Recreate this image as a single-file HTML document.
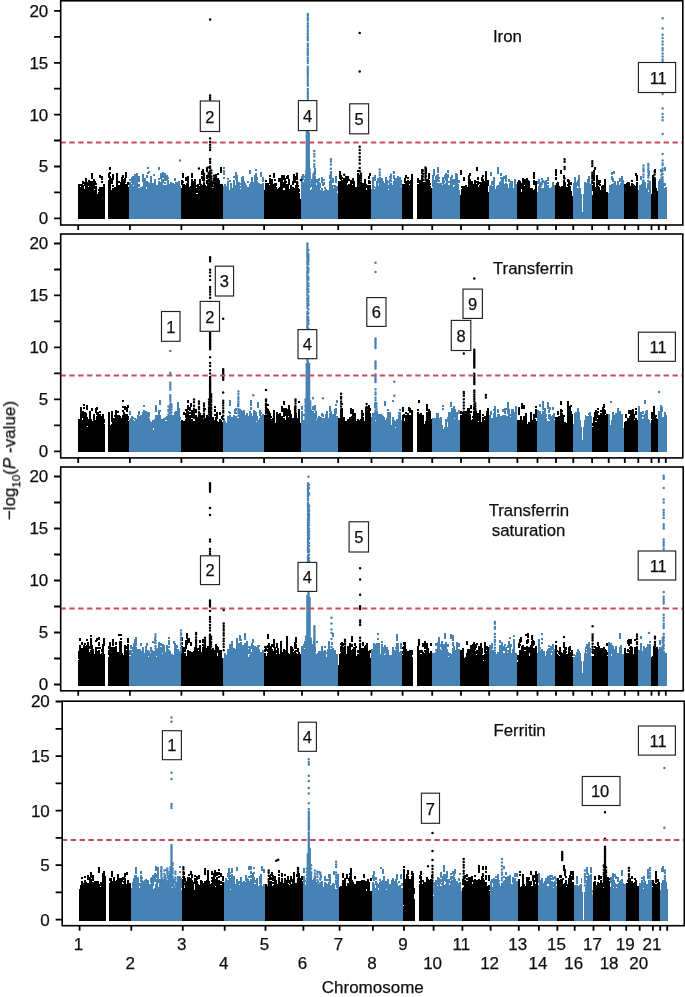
<!DOCTYPE html>
<html><head><meta charset="utf-8"><style>
html,body{margin:0;padding:0;background:#fff;width:685px;height:997px;overflow:hidden}
svg text{font-family:"Liberation Sans", sans-serif;fill:#111;stroke:#111;stroke-width:0.25px}
</style></head><body>
<svg width="685" height="997" viewBox="0 0 685 997" style="position:absolute;left:0;top:0"><defs><filter id="bl" x="0" y="0" width="1" height="1"><feGaussianBlur stdDeviation="0.5"/></filter></defs><g filter="url(#bl)"><path d="M78.5 184v35M79.5 184v35M80.5 184v2M80.5 187v32M81.5 184v35M82.5 181v38M83.5 181v3M83.5 185v34M84.5 182v4M84.5 189v30M85.5 178v41M86.5 178v41M87.5 182v37M88.5 180v6M88.5 187v32M89.5 180v39M90.5 181v38M91.5 173v6M91.5 181v38M92.5 173v6M92.5 181v38M93.5 179v40M94.5 179v10M94.5 190v29M95.5 181v4M95.5 186v33M96.5 183v2M96.5 186v33M97.5 194v25M98.5 189v2M98.5 192v27M99.5 175v3M99.5 187v32M100.5 175v3M100.5 187v32M101.5 176v4M101.5 181v2M101.5 187v32M102.5 176v4M102.5 181v2M102.5 187v32M103.5 184v35M104.5 184v35M108.5 173v5M108.5 180v39M109.5 167v3M109.5 172v47M110.5 167v3M110.5 172v2M110.5 176v43M111.5 178v6M111.5 190v29M112.5 174v10M112.5 185v2M112.5 188v31M113.5 174v6M113.5 185v2M113.5 188v31M114.5 187v32M115.5 187v32M116.5 173v46M117.5 173v46M118.5 181v2M118.5 185v34M119.5 181v2M119.5 185v34M120.5 182v37M121.5 177v42M122.5 175v44M123.5 175v3M123.5 179v40M124.5 178v41M125.5 172v11M125.5 184v35M126.5 172v6M126.5 184v35M127.5 182v37M128.5 182v3M128.5 187v32M181.5 180v5M181.5 188v31M182.5 173v5M182.5 180v39M183.5 173v5M183.5 181v2M183.5 184v35M184.5 184v35M185.5 177v4M185.5 185v34M186.5 177v4M186.5 183v36M187.5 176v43M188.5 176v43M189.5 187v32M190.5 186v33M191.5 173v5M191.5 179v40M192.5 173v5M192.5 179v40M193.5 181v38M194.5 179v40M195.5 179v40M196.5 185v2M196.5 188v5M196.5 194v25M197.5 184v9M197.5 194v25M198.5 184v35M199.5 179v6M199.5 186v33M200.5 179v40M201.5 171v4M201.5 176v3M201.5 184v35M202.5 169v6M202.5 176v5M202.5 185v34M203.5 169v6M203.5 178v3M203.5 185v34M204.5 185v34M205.5 185v34M206.5 167v5M206.5 175v4M206.5 180v4M206.5 186v33M207.5 167v5M207.5 175v4M207.5 180v39M208.5 183v36M209.5 184v35M210.5 180v39M211.5 180v39M212.5 181v6M212.5 188v31M213.5 188v31M214.5 177v4M214.5 183v36M215.5 174v45M216.5 174v45M217.5 173v2M217.5 178v41M218.5 173v2M218.5 178v41M219.5 180v39M220.5 167v6M220.5 184v35M221.5 167v6M221.5 184v35M222.5 184v35M264.5 190v29M265.5 180v2M265.5 183v36M266.5 180v2M266.5 183v36M267.5 183v36M268.5 183v36M269.5 175v2M269.5 178v6M269.5 185v34M270.5 175v2M270.5 178v41M271.5 179v40M272.5 179v40M273.5 173v5M273.5 184v35M274.5 173v5M274.5 179v2M274.5 183v36M275.5 179v2M275.5 183v36M276.5 183v3M276.5 187v32M277.5 189v30M278.5 178v4M278.5 188v31M279.5 178v4M279.5 187v32M280.5 178v41M281.5 175v44M282.5 175v44M283.5 175v5M283.5 182v6M283.5 190v29M284.5 175v13M284.5 190v29M285.5 178v41M286.5 176v3M286.5 181v2M286.5 184v35M287.5 175v4M287.5 184v35M288.5 175v44M289.5 179v6M289.5 189v30M290.5 185v34M291.5 185v34M292.5 181v4M292.5 187v32M293.5 174v11M293.5 187v32M294.5 174v9M294.5 188v31M295.5 176v7M295.5 185v34M296.5 175v5M296.5 181v38M297.5 175v5M297.5 181v38M298.5 185v2M298.5 188v31M299.5 189v3M299.5 193v26M300.5 199v20M338.5 181v38M339.5 171v8M339.5 181v38M340.5 171v9M340.5 181v38M341.5 175v44M342.5 177v2M342.5 180v39M343.5 178v41M344.5 178v41M345.5 176v43M346.5 176v43M347.5 176v7M347.5 185v34M348.5 176v5M348.5 184v35M349.5 179v2M349.5 184v35M350.5 180v39M351.5 180v39M352.5 178v6M352.5 185v34M353.5 178v41M354.5 181v38M355.5 187v32M356.5 187v32M357.5 170v2M357.5 173v46M358.5 170v2M358.5 173v46M359.5 177v42M360.5 183v36M361.5 183v36M362.5 183v36M363.5 183v36M364.5 179v40M365.5 179v40M366.5 184v4M366.5 190v29M367.5 185v34M368.5 176v3M368.5 180v4M368.5 185v34M369.5 173v6M369.5 180v4M369.5 185v34M370.5 173v3M370.5 181v3M370.5 185v34M402.5 184v35M403.5 184v35M404.5 178v5M404.5 184v35M405.5 175v44M406.5 175v3M406.5 181v38M407.5 177v2M407.5 180v39M408.5 177v2M408.5 180v39M409.5 181v3M409.5 185v34M410.5 180v39M411.5 174v45M412.5 174v45M417.5 178v5M417.5 184v35M418.5 178v5M418.5 184v35M419.5 180v39M420.5 180v39M421.5 169v5M421.5 175v44M422.5 169v5M422.5 175v8M422.5 184v35M423.5 182v37M424.5 182v37M425.5 168v6M425.5 175v2M425.5 179v2M425.5 182v37M426.5 168v6M426.5 175v2M426.5 179v40M427.5 179v40M428.5 173v46M429.5 173v6M429.5 180v39M430.5 183v2M430.5 186v33M431.5 188v31M460.5 170v5M460.5 195v24M461.5 170v5M461.5 186v2M461.5 189v30M462.5 186v33M463.5 177v4M463.5 186v33M464.5 177v4M464.5 186v33M465.5 185v34M466.5 185v34M467.5 187v32M468.5 175v44M469.5 173v46M470.5 173v3M470.5 179v40M471.5 181v38M472.5 181v38M473.5 184v35M474.5 180v39M475.5 180v39M476.5 167v4M476.5 181v2M476.5 184v35M477.5 167v4M477.5 177v3M477.5 181v38M478.5 177v3M478.5 181v4M478.5 187v32M479.5 182v2M479.5 185v34M480.5 182v37M481.5 177v4M481.5 182v37M482.5 175v44M483.5 175v2M483.5 179v40M484.5 181v38M485.5 171v48M486.5 171v48M487.5 180v39M488.5 180v6M488.5 192v27M517.5 182v37M518.5 180v39M519.5 180v39M520.5 181v38M521.5 183v6M521.5 192v27M522.5 178v41M523.5 178v41M524.5 179v6M524.5 186v33M525.5 179v40M526.5 178v41M527.5 178v41M528.5 180v39M529.5 181v38M530.5 188v31M531.5 188v31M532.5 188v31M533.5 172v7M533.5 180v5M533.5 190v29M534.5 172v7M534.5 180v5M534.5 189v30M535.5 181v38M536.5 181v38M555.5 169v7M555.5 177v3M555.5 185v34M556.5 169v7M556.5 177v3M556.5 183v36M557.5 182v37M558.5 182v37M559.5 186v33M560.5 170v4M560.5 187v32M561.5 170v4M561.5 186v33M562.5 186v33M563.5 175v4M563.5 180v39M564.5 175v4M564.5 180v39M565.5 182v37M566.5 187v32M567.5 179v3M567.5 184v2M567.5 187v32M568.5 179v40M569.5 180v39M570.5 182v3M570.5 186v33M571.5 182v3M571.5 191v28M572.5 196v23M592.5 185v6M592.5 195v24M593.5 170v11M593.5 182v37M594.5 167v14M594.5 182v37M595.5 167v3M595.5 187v32M596.5 175v44M597.5 175v44M598.5 180v5M598.5 186v33M599.5 180v6M599.5 187v32M600.5 180v3M600.5 184v2M600.5 190v29M601.5 186v33M602.5 185v34M603.5 185v34M604.5 179v40M605.5 179v40M606.5 192v27M607.5 192v27M624.5 184v35M625.5 184v35M626.5 183v36M627.5 182v37M628.5 182v37M629.5 182v37M630.5 186v33M631.5 180v2M631.5 183v36M632.5 180v2M632.5 183v36M633.5 184v35M634.5 185v34M635.5 173v3M635.5 186v33M636.5 173v8M636.5 182v37M637.5 175v6M637.5 182v37M651.5 194v25M652.5 175v44M653.5 175v44M654.5 169v4M654.5 177v42M655.5 169v4M655.5 179v40M656.5 188v31M657.5 191v28" stroke="#000" stroke-width="1" shape-rendering="crispEdges"/><path d="M129.5 179v2M129.5 182v37M130.5 179v2M130.5 182v37M131.5 177v6M131.5 184v35M132.5 176v43M133.5 176v9M133.5 186v33M134.5 174v45M135.5 174v45M136.5 173v46M137.5 173v46M138.5 176v6M138.5 184v3M138.5 188v31M139.5 176v6M139.5 184v3M139.5 188v31M140.5 187v32M141.5 187v32M142.5 174v8M142.5 186v33M143.5 174v45M144.5 178v41M145.5 178v41M146.5 175v3M146.5 181v6M146.5 189v30M147.5 167v2M147.5 172v2M147.5 175v3M147.5 181v38M148.5 167v2M148.5 171v3M148.5 182v37M149.5 171v2M149.5 183v36M150.5 176v43M151.5 176v43M152.5 183v36M153.5 174v2M153.5 183v36M154.5 174v2M154.5 179v40M155.5 179v40M156.5 185v34M157.5 185v34M158.5 167v3M158.5 178v2M158.5 181v38M159.5 167v3M159.5 178v2M159.5 181v38M160.5 173v6M160.5 182v37M161.5 173v46M162.5 172v6M162.5 179v40M163.5 172v6M163.5 179v4M163.5 185v34M164.5 173v8M164.5 182v2M164.5 185v34M165.5 173v8M165.5 182v2M165.5 185v34M166.5 175v6M166.5 185v34M167.5 175v44M168.5 177v2M168.5 180v39M169.5 184v35M170.5 182v37M171.5 182v37M172.5 183v36M173.5 183v36M174.5 178v3M174.5 184v35M175.5 178v3M175.5 182v37M176.5 182v37M177.5 182v37M178.5 181v38M179.5 181v38M180.5 186v33M223.5 167v2M223.5 170v5M223.5 177v2M223.5 186v33M224.5 167v2M224.5 170v5M224.5 177v2M224.5 184v35M225.5 184v35M226.5 186v33M227.5 178v2M227.5 181v38M228.5 178v2M228.5 181v38M229.5 180v2M229.5 190v29M230.5 180v2M230.5 183v36M231.5 183v36M232.5 188v31M233.5 176v2M233.5 180v39M234.5 176v2M234.5 180v39M235.5 172v8M235.5 185v34M236.5 172v47M237.5 175v44M238.5 182v37M239.5 182v37M240.5 183v2M240.5 186v2M240.5 189v30M241.5 177v42M242.5 176v43M243.5 176v43M244.5 181v38M245.5 183v36M246.5 185v34M247.5 181v2M247.5 187v32M248.5 181v2M248.5 187v32M249.5 170v4M249.5 184v35M250.5 170v4M250.5 182v37M251.5 177v42M252.5 177v42M253.5 182v37M254.5 175v44M255.5 169v2M255.5 173v46M256.5 169v2M256.5 173v46M257.5 177v3M257.5 181v38M258.5 183v36M259.5 183v36M260.5 172v5M260.5 184v35M261.5 172v5M261.5 184v35M262.5 177v5M262.5 183v36M263.5 177v5M263.5 183v36M301.5 176v43M302.5 174v45M303.5 174v6M303.5 182v37M304.5 181v38M305.5 177v42M306.5 177v4M306.5 183v3M306.5 187v32M307.5 181v4M307.5 186v33M308.5 179v40M309.5 179v2M309.5 184v35M310.5 185v3M310.5 190v29M311.5 179v8M311.5 189v30M312.5 179v40M313.5 181v38M314.5 168v7M314.5 176v43M315.5 168v7M315.5 176v43M316.5 179v4M316.5 185v34M317.5 179v40M318.5 178v41M319.5 178v3M319.5 182v37M320.5 183v5M320.5 190v29M321.5 177v6M321.5 188v31M322.5 177v9M322.5 188v31M323.5 179v2M323.5 182v4M323.5 191v28M324.5 179v2M324.5 182v3M324.5 187v2M324.5 190v29M325.5 187v32M326.5 189v30M327.5 190v29M328.5 190v29M329.5 175v4M329.5 181v38M330.5 171v8M330.5 180v39M331.5 171v4M331.5 176v3M331.5 180v39M332.5 178v5M332.5 185v34M333.5 178v5M333.5 185v2M333.5 188v31M334.5 185v34M335.5 176v7M335.5 185v34M336.5 176v7M336.5 186v33M337.5 186v5M337.5 193v26M371.5 189v30M372.5 177v42M373.5 177v42M374.5 175v6M374.5 186v2M374.5 189v30M375.5 175v6M375.5 187v32M376.5 181v38M377.5 178v41M378.5 178v5M378.5 186v33M379.5 178v41M380.5 178v41M381.5 178v41M382.5 178v41M383.5 181v38M384.5 183v36M385.5 177v42M386.5 177v42M387.5 180v39M388.5 181v2M388.5 185v4M388.5 190v29M389.5 176v2M389.5 179v40M390.5 176v2M390.5 179v3M390.5 183v36M391.5 185v34M392.5 185v34M393.5 171v3M393.5 175v4M393.5 181v38M394.5 171v3M394.5 175v44M395.5 178v41M396.5 178v41M397.5 176v43M398.5 176v43M399.5 177v42M400.5 177v42M401.5 180v6M401.5 187v32M432.5 175v12M432.5 188v31M433.5 169v50M434.5 169v7M434.5 180v39M435.5 176v43M436.5 175v44M437.5 167v6M437.5 174v8M437.5 183v36M438.5 167v6M438.5 174v8M438.5 183v36M439.5 177v2M439.5 180v2M439.5 183v36M440.5 183v36M441.5 183v36M442.5 177v7M442.5 185v34M443.5 177v42M444.5 175v4M444.5 180v3M444.5 184v35M445.5 173v8M445.5 183v36M446.5 173v46M447.5 170v3M447.5 174v45M448.5 170v3M448.5 174v4M448.5 181v2M448.5 185v34M449.5 181v2M449.5 185v34M450.5 177v42M451.5 175v44M452.5 175v3M452.5 179v40M453.5 179v6M453.5 187v32M454.5 179v6M454.5 186v33M455.5 173v46M456.5 173v46M457.5 174v45M458.5 180v3M458.5 184v35M459.5 180v3M459.5 190v29M489.5 186v33M490.5 172v4M490.5 185v34M491.5 172v4M491.5 181v38M492.5 181v4M492.5 186v33M493.5 177v42M494.5 177v42M495.5 189v30M496.5 186v33M497.5 167v7M497.5 185v34M498.5 167v7M498.5 185v34M499.5 182v37M500.5 173v3M500.5 177v2M500.5 181v38M501.5 173v3M501.5 177v42M502.5 177v42M503.5 176v43M504.5 176v3M504.5 184v35M505.5 175v7M505.5 183v36M506.5 175v7M506.5 183v36M507.5 184v35M508.5 179v3M508.5 188v31M509.5 179v3M509.5 183v36M510.5 181v38M511.5 181v38M512.5 181v38M513.5 188v31M514.5 179v40M515.5 179v40M516.5 184v35M537.5 181v3M537.5 192v27M538.5 179v5M538.5 186v33M539.5 179v40M540.5 182v37M541.5 178v2M541.5 181v6M541.5 188v31M542.5 178v7M542.5 188v31M543.5 180v3M543.5 188v31M544.5 181v38M545.5 180v39M546.5 180v39M547.5 177v4M547.5 182v2M547.5 185v34M548.5 177v4M548.5 182v2M548.5 185v34M549.5 188v31M550.5 188v31M551.5 187v32M552.5 182v37M553.5 182v37M554.5 185v34M573.5 183v36M574.5 177v42M575.5 177v42M576.5 182v37M577.5 180v6M577.5 188v31M578.5 175v12M578.5 188v31M579.5 175v44M580.5 188v31M581.5 194v25M582.5 212v7M583.5 194v25M584.5 182v37M585.5 182v37M586.5 183v36M587.5 179v40M588.5 176v43M589.5 176v43M590.5 184v35M591.5 184v35M608.5 193v26M609.5 185v34M610.5 185v34M611.5 172v3M611.5 176v4M611.5 184v35M612.5 172v3M612.5 176v6M612.5 184v35M613.5 171v3M613.5 178v4M613.5 183v36M614.5 171v3M614.5 181v38M615.5 181v38M616.5 185v34M617.5 181v38M618.5 181v38M619.5 178v4M619.5 185v34M620.5 178v4M620.5 183v36M621.5 176v43M622.5 176v43M623.5 180v39M638.5 190v29M639.5 185v34M640.5 176v4M640.5 185v34M641.5 176v4M641.5 184v35M642.5 180v39M643.5 180v39M644.5 182v37M645.5 182v37M646.5 188v31M647.5 184v35M648.5 171v5M648.5 184v6M648.5 192v27M649.5 171v5M649.5 181v38M650.5 181v38M658.5 181v38M659.5 179v40M660.5 169v3M660.5 179v40M661.5 169v3M661.5 181v38M662.5 183v36M663.5 183v36M664.5 167v4M664.5 183v3M664.5 188v31M665.5 167v4M665.5 183v3M665.5 187v32M666.5 187v32" stroke="#4682b4" stroke-width="1" shape-rendering="crispEdges"/><path d="M210.1 19.5h0M210.1 95.4h0M210.1 97.5h0M210.1 99.6h0M210.1 138.5h0M210.1 141.9h0M210.1 144.7h0M210.1 147.4h0M210.1 149.9h0M210.1 159.0h0M210.1 161.5h0M210.1 163.0h0M210.1 166.4h0M210.1 168.1h0M210.1 170.8h0M210.1 173.4h0M210.1 175.4h0M210.1 178.5h0M210.1 181.0h0M210.1 183.6h0M210.1 185.5h0M211.3 170.6h0M211.3 173.3h0M211.3 176.4h0M211.3 178.1h0M211.3 180.2h0M211.3 183.4h0M211.3 185.2h0M211.3 187.1h0M198.9 168.5h0M208.0 167.5h0M208.6 172.7h0M208.6 174.6h0M208.6 177.0h0M208.6 179.9h0M208.6 181.4h0M208.6 184.9h0M204.0 173.7h0M204.0 175.0h0M204.0 177.2h0M204.0 179.0h0M204.0 180.5h0M204.0 183.2h0M204.0 184.6h0M214.0 175.8h0M214.0 178.5h0M214.0 180.0h0M214.0 181.9h0M214.0 183.4h0M214.0 186.4h0M296.9 173.7h0M301.0 179.9h0M297.3 183.0h0M359.7 33.0h0M359.7 71.5h0M359.7 146.8h0M359.7 150.1h0M359.7 153.2h0M359.7 156.9h0M359.7 160.0h0M359.7 163.4h0M359.7 168.0h0M359.7 171.2h0M359.7 175.8h0M344.2 174.7h0M340.9 176.8h0M361.0 173.7h0M361.0 176.1h0M361.0 178.1h0M361.0 180.6h0M361.0 182.9h0M361.0 185.7h0M425.5 167.5h0M425.5 169.1h0M425.5 171.4h0M425.5 173.4h0M425.5 175.4h0M425.5 177.8h0M425.5 180.2h0M425.5 183.3h0M425.5 186.4h0M423.0 170.6h0M423.0 173.8h0M423.0 176.4h0M423.0 179.7h0M423.0 183.2h0M423.0 186.0h0M564.6 159.2h0M564.6 161.8h0M564.6 167.0h0M564.6 168.9h0M564.6 178.5h0M592.3 161.3h0M592.3 163.4h0M592.3 166.1h0M592.3 172.7h0M592.3 175.1h0M592.3 176.7h0M592.3 178.5h0M592.3 181.3h0M592.3 183.1h0M654.6 171.6h0M654.6 174.6h0M654.6 178.0h0M654.6 181.2h0M654.6 184.6h0M654.6 186.2h0" stroke="#000" stroke-width="2.5" stroke-linecap="round"/><path d="M180.0 160.5h0M307.8 14.0h0M307.8 15.4h0M307.8 17.7h0M307.8 19.2h0M307.8 20.6h0M307.8 23.2h0M307.8 25.3h0M307.8 27.0h0M307.8 28.9h0M307.8 31.1h0M307.8 33.0h0M307.8 34.5h0M307.8 36.7h0M307.8 37.8h0M307.8 39.0h0M307.8 40.2h0M307.8 43.8h0M307.8 45.0h0M307.8 46.1h0M307.8 48.6h0M307.8 50.4h0M307.8 52.2h0M307.8 53.4h0M307.8 54.9h0M307.8 57.8h0M307.8 60.0h0M307.8 61.1h0M307.8 63.0h0M307.8 66.7h0M307.8 68.7h0M307.8 70.1h0M307.8 71.4h0M307.8 72.9h0M307.8 74.3h0M307.8 76.1h0M307.8 77.9h0M307.8 79.9h0M307.8 82.0h0M307.8 83.7h0M307.8 85.4h0M307.8 89.1h0M307.8 90.1h0M307.8 92.2h0M307.8 94.0h0M307.8 96.0h0M307.8 97.9h0M307.8 99.9h0M307.8 101.1h0M307.8 103.0h0M307.8 104.7h0M307.8 106.3h0M307.8 107.4h0M307.8 109.5h0M307.8 111.5h0M307.8 113.7h0M307.8 115.8h0M307.8 117.0h0M307.8 118.6h0M307.8 120.7h0M307.8 122.5h0M307.8 124.2h0M307.8 125.4h0M307.8 127.5h0M307.8 130.1h0M307.8 131.2h0M307.8 131.2h0M307.8 131.9h0M307.8 132.7h0M307.8 133.3h0M307.8 134.3h0M307.8 135.0h0M307.8 135.8h0M307.8 136.3h0M307.8 136.9h0M307.8 137.4h0M307.8 138.0h0M307.8 138.8h0M307.8 139.3h0M307.8 140.0h0M307.8 141.0h0M307.8 141.9h0M307.8 142.6h0M307.8 143.2h0M307.8 144.0h0M307.8 144.8h0M307.8 145.8h0M307.8 146.3h0M307.8 147.2h0M307.8 148.0h0M307.8 148.7h0M307.8 149.3h0M307.8 149.9h0M307.8 150.6h0M307.8 151.6h0M307.8 152.3h0M307.8 153.3h0M307.8 154.0h0M307.8 154.7h0M307.8 155.2h0M307.8 155.9h0M307.8 156.6h0M307.8 157.6h0M307.8 158.5h0M307.8 159.2h0M307.8 159.9h0M307.8 160.8h0M307.8 161.3h0M307.8 162.1h0M307.8 162.8h0M307.8 163.3h0M307.8 164.1h0M307.8 165.0h0M307.8 165.9h0M307.8 166.4h0M307.8 166.9h0M307.8 167.4h0M307.8 168.1h0M307.8 169.0h0M307.8 169.6h0M307.8 170.0h0M307.8 170.6h0M307.8 171.1h0M307.8 171.9h0M307.8 172.9h0M307.8 173.7h0M307.8 174.2h0M307.8 175.1h0M307.8 176.0h0M307.8 176.5h0M307.8 177.1h0M307.8 177.9h0M307.8 178.7h0M307.8 179.1h0M307.8 179.6h0M307.8 180.5h0M307.8 181.1h0M307.8 182.0h0M307.8 182.5h0M307.8 182.9h0M307.8 183.4h0M307.8 184.0h0M307.8 184.8h0M307.8 185.4h0M307.8 186.1h0M307.8 186.7h0M306.8 132.2h0M306.8 133.4h0M306.8 134.3h0M306.8 135.5h0M306.8 136.6h0M306.8 137.4h0M306.8 138.6h0M306.8 139.9h0M306.8 140.6h0M306.8 141.8h0M306.8 143.0h0M306.8 143.9h0M306.8 144.9h0M306.8 146.3h0M306.8 147.3h0M306.8 148.7h0M306.8 149.9h0M306.8 150.9h0M306.8 152.2h0M306.8 153.0h0M306.8 154.1h0M306.8 155.4h0M306.8 156.9h0M306.8 157.9h0M306.8 159.1h0M306.8 160.1h0M306.8 161.2h0M306.8 162.5h0M306.8 163.5h0M306.8 164.4h0M306.8 165.3h0M306.8 166.4h0M306.8 167.1h0M306.8 168.4h0M306.8 169.6h0M306.8 170.6h0M306.8 171.4h0M306.8 172.6h0M306.8 174.0h0M306.8 175.3h0M306.8 176.6h0M306.8 177.4h0M306.8 178.2h0M306.8 178.9h0M306.8 179.6h0M306.8 180.5h0M306.8 181.5h0M306.8 182.8h0M306.8 183.8h0M306.8 184.7h0M306.8 185.6h0M306.8 186.7h0M308.8 133.3h0M308.8 133.9h0M308.8 134.6h0M308.8 135.7h0M308.8 137.1h0M308.8 138.5h0M308.8 139.6h0M308.8 140.9h0M308.8 141.9h0M308.8 142.7h0M308.8 144.1h0M308.8 145.4h0M308.8 146.3h0M308.8 147.3h0M308.8 148.3h0M308.8 149.5h0M308.8 150.2h0M308.8 151.6h0M308.8 153.0h0M308.8 154.3h0M308.8 155.7h0M308.8 157.0h0M308.8 158.2h0M308.8 159.4h0M308.8 160.8h0M308.8 161.5h0M308.8 162.9h0M308.8 163.8h0M308.8 164.8h0M308.8 165.8h0M308.8 166.6h0M308.8 167.5h0M308.8 168.4h0M308.8 169.2h0M308.8 170.6h0M308.8 171.9h0M308.8 173.2h0M308.8 174.0h0M308.8 175.5h0M308.8 176.7h0M308.8 178.2h0M308.8 178.9h0M308.8 179.8h0M308.8 180.9h0M308.8 181.5h0M308.8 182.6h0M308.8 184.1h0M308.8 185.5h0M308.8 186.7h0M306.0 171.6h0M306.0 174.6h0M306.0 177.7h0M306.0 179.2h0M306.0 181.6h0M306.0 183.6h0M306.0 185.8h0M309.8 169.6h0M309.8 172.3h0M309.8 174.0h0M309.8 175.9h0M309.8 177.7h0M309.8 179.6h0M309.8 182.0h0M309.8 184.3h0M309.8 185.9h0M305.0 176.8h0M305.0 180.0h0M305.0 181.9h0M305.0 183.6h0M305.0 185.8h0M314.3 151.0h0M314.3 153.9h0M314.3 156.4h0M314.3 160.7h0M314.3 164.2h0M314.3 166.8h0M314.3 172.4h0M314.3 176.1h0M314.3 179.0h0M314.3 181.1h0M314.3 182.9h0M314.3 186.1h0M330.9 159.3h0M330.9 161.5h0M330.9 164.4h0M330.9 168.8h0M330.9 172.2h0M330.9 175.4h0M330.9 180.2h0M330.9 183.6h0M330.9 186.6h0M313.3 174.7h0M313.3 176.9h0M313.3 178.5h0M313.3 181.2h0M313.3 184.4h0M379.7 169.6h0M379.7 172.6h0M379.7 175.1h0M379.7 177.8h0M379.7 181.1h0M379.7 183.7h0M379.7 186.3h0M391.0 174.7h0M391.0 176.3h0M391.0 178.3h0M391.0 181.0h0M391.0 184.1h0M391.0 186.4h0M643.5 165.6h0M643.5 168.3h0M643.5 170.1h0M643.5 171.6h0M643.5 174.7h0M643.5 177.2h0M643.5 180.7h0M643.5 182.8h0M643.5 185.8h0M648.3 164.0h0M648.3 165.8h0M648.3 168.2h0M648.3 170.2h0M648.3 172.2h0M648.3 175.5h0M648.3 177.5h0M648.3 180.9h0M648.3 183.7h0M648.3 186.7h0M662.6 18.2h0M662.6 28.5h0M662.6 34.8h0M662.6 37.9h0M662.6 41.4h0M662.6 44.6h0M662.6 48.2h0M662.6 50.3h0M662.6 53.4h0M662.6 56.5h0M662.6 59.6h0M662.6 61.7h0M662.6 93.9h0M662.6 108.4h0M662.6 113.9h0M662.6 117.2h0M662.6 120.3h0M662.6 133.9h0M662.6 154.0h0M662.6 160.6h0M662.6 163.5h0M662.6 165.0h0M662.6 168.4h0M662.6 170.7h0M662.6 174.0h0M662.6 177.2h0M662.6 179.4h0M662.6 181.2h0M662.6 182.7h0M662.6 184.6h0M662.6 186.3h0M661.5 171.6h0M661.5 174.7h0M661.5 177.7h0M661.5 180.3h0M661.5 182.1h0M661.5 184.4h0M661.5 186.1h0" stroke="#4682b4" stroke-width="2.5" stroke-linecap="round"/><line x1="61.400000000000006" y1="142.6" x2="682.0999999999999" y2="142.6" stroke="#cc4a62" stroke-width="2" stroke-dasharray="5.4 3.47" stroke-dashoffset="0.97"/><rect x="60.7" y="0.8" width="622.1" height="224.2" fill="none" stroke="#000" stroke-width="1.6"/><path d="M54.1 218.3H60.7M54.1 192.4H60.7M54.1 166.5H60.7M54.1 140.5H60.7M54.1 114.6H60.7M54.1 88.7H60.7M54.1 62.8H60.7M54.1 36.8H60.7M54.1 10.9H60.7M78.2 225.0v5M129.9 225.0v5M181.4 225.0v5M223.3 225.0v5M264.1 225.0v5M302.0 225.0v5M338.2 225.0v5M371.5 225.0v5M402.6 225.0v5M432.2 225.0v5M461.0 225.0v5M489.2 225.0v5M517.4 225.0v5M537.5 225.0v5M556.0 225.0v5M573.3 225.0v5M592.1 225.0v5M608.7 225.0v5M624.8 225.0v5M638.3 225.0v5M651.5 225.0v5M658.8 225.0v5M665.8 225.0v5" stroke="#000" stroke-width="1.8" fill="none"/><text x="48.3" y="224.2" text-anchor="end" font-size="17">0</text><text x="48.3" y="172.4" text-anchor="end" font-size="17">5</text><text x="48.3" y="120.5" text-anchor="end" font-size="17">10</text><text x="48.3" y="68.7" text-anchor="end" font-size="17">15</text><text x="48.3" y="16.8" text-anchor="end" font-size="17">20</text><rect x="200.3" y="101" width="19.2" height="30.5" fill="#fff" stroke="#222" stroke-width="1.15"/><text x="209.9" y="122.5" text-anchor="middle" font-size="16.5">2</text><rect x="298.4" y="100.6" width="18.4" height="30.0" fill="#fff" stroke="#222" stroke-width="1.15"/><text x="307.6" y="121.8" text-anchor="middle" font-size="16.5">4</text><rect x="349.7" y="103.8" width="18.9" height="30.0" fill="#fff" stroke="#222" stroke-width="1.15"/><text x="359.1" y="125.0" text-anchor="middle" font-size="16.5">5</text><rect x="638.4" y="62.5" width="37.2" height="30.0" fill="#fff" stroke="#222" stroke-width="1.15"/><text x="658.2" y="83.7" text-anchor="middle" font-size="16.5">11</text><text x="507.4" y="42" text-anchor="middle" font-size="16.8">Iron</text><path d="M78.5 419v33M79.5 419v33M80.5 407v45M81.5 407v45M82.5 411v7M82.5 420v32M83.5 404v2M83.5 407v2M83.5 411v41M84.5 404v2M84.5 407v2M84.5 412v40M85.5 412v40M86.5 405v5M86.5 413v39M87.5 405v5M87.5 417v9M87.5 427v25M88.5 419v33M89.5 411v41M90.5 411v41M91.5 408v3M91.5 419v33M92.5 408v3M92.5 421v31M93.5 414v38M94.5 414v38M95.5 408v5M95.5 420v32M96.5 407v8M96.5 416v36M97.5 407v3M97.5 412v40M98.5 412v40M99.5 411v2M99.5 414v38M100.5 411v2M100.5 414v38M101.5 416v36M102.5 414v38M103.5 414v38M104.5 419v4M104.5 424v28M108.5 412v40M109.5 412v40M110.5 425v27M111.5 411v11M111.5 424v28M112.5 411v41M113.5 418v34M114.5 415v2M114.5 418v34M115.5 410v42M116.5 410v42M117.5 411v2M117.5 415v37M118.5 411v2M118.5 415v37M119.5 415v37M120.5 416v36M121.5 418v34M122.5 400v2M122.5 406v2M122.5 410v2M122.5 415v37M123.5 400v2M123.5 406v2M123.5 410v42M124.5 406v4M124.5 412v40M125.5 406v4M125.5 414v38M126.5 407v5M126.5 414v38M127.5 405v7M127.5 414v38M128.5 405v3M128.5 416v4M128.5 421v31M181.5 420v32M182.5 420v32M183.5 412v3M183.5 421v31M184.5 412v3M184.5 421v31M185.5 409v2M185.5 413v5M185.5 419v33M186.5 409v43M187.5 400v3M187.5 405v47M188.5 400v3M188.5 405v5M188.5 411v41M189.5 407v4M189.5 412v2M189.5 415v37M190.5 403v8M190.5 412v2M190.5 415v37M191.5 403v4M191.5 410v8M191.5 419v33M192.5 410v8M192.5 419v33M193.5 421v31M194.5 421v31M195.5 409v4M195.5 415v37M196.5 409v4M196.5 415v37M197.5 417v35M198.5 415v37M199.5 413v39M200.5 413v39M201.5 415v37M202.5 415v37M203.5 419v33M204.5 408v2M204.5 418v34M205.5 408v2M205.5 418v34M206.5 415v37M207.5 415v37M208.5 407v6M208.5 416v36M209.5 407v8M209.5 419v33M210.5 409v43M211.5 413v39M212.5 417v35M213.5 417v35M214.5 406v2M214.5 409v3M214.5 414v2M214.5 420v32M215.5 406v2M215.5 409v3M215.5 414v2M215.5 417v35M216.5 412v40M217.5 412v7M217.5 421v31M218.5 422v30M219.5 412v3M219.5 419v33M220.5 412v3M220.5 419v33M221.5 416v3M221.5 420v32M222.5 416v3M222.5 422v30M264.5 415v37M265.5 408v5M265.5 415v37M266.5 408v5M266.5 419v33M267.5 404v2M267.5 408v44M268.5 404v2M268.5 409v43M269.5 411v41M270.5 413v39M271.5 416v2M271.5 419v33M272.5 418v34M273.5 410v42M274.5 410v42M275.5 423v29M276.5 412v40M277.5 412v40M278.5 414v38M279.5 413v39M280.5 413v39M281.5 406v6M281.5 416v36M282.5 406v6M282.5 416v36M283.5 401v4M283.5 408v9M283.5 418v34M284.5 401v4M284.5 408v9M284.5 418v34M285.5 408v8M285.5 420v32M286.5 408v44M287.5 409v43M288.5 405v11M288.5 417v35M289.5 405v47M290.5 410v42M291.5 414v38M292.5 418v34M293.5 418v34M294.5 406v46M295.5 406v46M296.5 413v39M297.5 418v34M298.5 401v2M298.5 409v43M299.5 401v2M299.5 409v43M300.5 423v29M338.5 418v34M339.5 418v34M340.5 410v2M340.5 416v36M341.5 403v2M341.5 408v44M342.5 403v2M342.5 408v44M343.5 417v35M344.5 417v35M345.5 421v31M346.5 421v31M347.5 419v33M348.5 419v33M349.5 417v35M350.5 408v6M350.5 417v35M351.5 408v6M351.5 416v36M352.5 409v43M353.5 409v43M354.5 413v39M355.5 413v39M356.5 421v31M357.5 419v33M358.5 419v33M359.5 420v32M360.5 419v33M361.5 410v42M362.5 410v42M363.5 413v3M363.5 417v35M364.5 421v31M365.5 407v45M366.5 407v45M367.5 407v2M367.5 410v42M368.5 405v47M369.5 405v47M370.5 408v3M370.5 413v39M402.5 407v5M402.5 415v37M403.5 407v5M403.5 414v38M404.5 414v4M404.5 421v31M405.5 412v2M405.5 415v37M406.5 412v2M406.5 415v37M407.5 413v39M408.5 407v4M408.5 413v39M409.5 407v6M409.5 415v37M410.5 408v5M410.5 415v37M411.5 410v42M412.5 410v42M417.5 409v2M417.5 412v40M418.5 400v3M418.5 409v2M418.5 412v40M419.5 400v3M419.5 414v38M420.5 413v39M421.5 413v39M422.5 415v37M423.5 415v37M424.5 424v28M425.5 421v31M426.5 404v7M426.5 412v40M427.5 404v7M427.5 412v40M428.5 409v43M429.5 409v43M430.5 411v41M431.5 419v33M460.5 411v3M460.5 415v37M461.5 411v3M461.5 415v37M462.5 412v40M463.5 412v40M464.5 414v38M465.5 411v41M466.5 411v41M467.5 408v44M468.5 408v44M469.5 408v44M470.5 405v4M470.5 411v2M470.5 414v38M471.5 405v4M471.5 411v2M471.5 420v32M472.5 416v2M472.5 419v33M473.5 407v2M473.5 411v41M474.5 407v2M474.5 411v41M475.5 411v41M476.5 411v41M477.5 413v39M478.5 413v8M478.5 422v30M479.5 410v42M480.5 410v42M481.5 422v30M482.5 414v2M482.5 417v35M483.5 414v2M483.5 417v35M484.5 416v3M484.5 420v32M485.5 416v36M486.5 411v41M487.5 408v44M488.5 408v44M517.5 420v32M518.5 407v8M518.5 420v32M519.5 407v8M519.5 420v32M520.5 416v36M521.5 403v6M521.5 416v36M522.5 403v6M522.5 420v32M523.5 405v4M523.5 416v36M524.5 405v4M524.5 416v36M525.5 413v39M526.5 413v39M527.5 424v28M528.5 422v30M529.5 422v30M530.5 412v40M531.5 412v40M532.5 420v32M533.5 414v38M534.5 414v38M535.5 406v2M535.5 409v9M535.5 419v33M536.5 406v2M536.5 409v9M536.5 421v31M555.5 417v35M556.5 417v35M557.5 411v4M557.5 417v35M558.5 411v4M558.5 416v36M559.5 416v36M560.5 401v4M560.5 409v43M561.5 401v4M561.5 409v43M562.5 410v2M562.5 413v39M563.5 415v37M564.5 415v2M564.5 422v30M565.5 422v30M566.5 423v29M567.5 401v51M568.5 401v51M569.5 406v46M570.5 405v47M571.5 405v2M571.5 411v41M572.5 414v38M592.5 423v3M592.5 427v25M593.5 417v35M594.5 412v40M595.5 410v11M595.5 422v30M596.5 410v11M596.5 422v30M597.5 408v2M597.5 411v7M597.5 419v33M598.5 408v2M598.5 411v2M598.5 415v37M599.5 415v37M600.5 410v2M600.5 413v39M601.5 410v2M601.5 413v39M602.5 407v45M603.5 404v48M604.5 404v4M604.5 409v43M605.5 410v4M605.5 415v37M606.5 414v38M607.5 414v38M624.5 422v30M625.5 414v4M625.5 421v31M626.5 414v4M626.5 421v31M627.5 418v34M628.5 410v4M628.5 418v34M629.5 410v4M629.5 416v36M630.5 410v42M631.5 410v42M632.5 409v43M633.5 409v43M634.5 414v5M634.5 420v32M635.5 408v2M635.5 411v4M635.5 418v34M636.5 408v2M636.5 411v4M636.5 418v34M637.5 420v32M651.5 412v7M651.5 420v32M652.5 412v40M653.5 406v46M654.5 406v46M655.5 415v37M656.5 415v2M656.5 418v34M657.5 419v33" stroke="#000" stroke-width="1" shape-rendering="crispEdges"/><path d="M129.5 411v4M129.5 420v32M130.5 411v4M130.5 418v34M131.5 416v36M132.5 416v36M133.5 417v2M133.5 420v32M134.5 418v2M134.5 421v31M135.5 418v34M136.5 419v33M137.5 415v37M138.5 411v41M139.5 411v4M139.5 416v36M140.5 415v37M141.5 415v37M142.5 412v40M143.5 405v2M143.5 410v42M144.5 405v2M144.5 410v42M145.5 411v41M146.5 411v41M147.5 412v40M148.5 412v40M149.5 412v5M149.5 418v34M150.5 421v31M151.5 422v30M152.5 420v32M153.5 420v8M153.5 430v22M154.5 419v33M155.5 405v7M155.5 415v37M156.5 405v7M156.5 415v37M157.5 415v37M158.5 410v42M159.5 400v5M159.5 410v42M160.5 400v5M160.5 410v2M160.5 415v37M161.5 419v33M162.5 419v33M163.5 418v34M164.5 418v34M165.5 417v3M165.5 421v31M166.5 416v4M166.5 421v31M167.5 416v36M168.5 416v36M169.5 416v36M170.5 404v4M170.5 415v37M171.5 404v4M171.5 415v37M172.5 415v37M173.5 415v37M174.5 412v40M175.5 411v41M176.5 411v41M177.5 402v50M178.5 402v50M179.5 408v44M180.5 417v3M180.5 421v31M223.5 419v33M224.5 419v33M225.5 421v31M226.5 423v29M227.5 416v36M228.5 411v2M228.5 416v36M229.5 400v6M229.5 411v3M229.5 415v37M230.5 400v6M230.5 412v2M230.5 415v37M231.5 417v35M232.5 417v35M233.5 415v37M234.5 409v5M234.5 415v37M235.5 408v6M235.5 416v36M236.5 408v3M236.5 412v2M236.5 416v36M237.5 404v3M237.5 418v34M238.5 404v3M238.5 420v32M239.5 409v43M240.5 409v43M241.5 410v42M242.5 411v41M243.5 410v42M244.5 410v42M245.5 415v37M246.5 413v39M247.5 413v39M248.5 416v36M249.5 411v41M250.5 400v6M250.5 407v3M250.5 411v41M251.5 400v6M251.5 407v3M251.5 413v39M252.5 416v36M253.5 410v42M254.5 410v42M255.5 411v41M256.5 412v9M256.5 422v30M257.5 402v6M257.5 416v36M258.5 402v6M258.5 420v32M259.5 410v6M259.5 418v34M260.5 410v42M261.5 412v2M261.5 415v37M262.5 414v38M263.5 414v38M301.5 406v4M301.5 411v41M302.5 406v4M302.5 411v41M303.5 414v2M303.5 420v32M304.5 414v2M304.5 420v32M305.5 416v36M306.5 416v36M307.5 401v3M307.5 408v44M308.5 401v3M308.5 406v46M309.5 406v3M309.5 413v39M310.5 410v42M311.5 410v42M312.5 406v4M312.5 411v41M313.5 406v4M313.5 411v41M314.5 405v6M314.5 413v39M315.5 405v47M316.5 411v8M316.5 420v32M317.5 418v34M318.5 416v36M319.5 416v36M320.5 417v35M321.5 413v3M321.5 417v35M322.5 413v4M322.5 418v34M323.5 414v3M323.5 418v34M324.5 418v34M325.5 414v38M326.5 411v41M327.5 411v41M328.5 418v34M329.5 406v6M329.5 413v39M330.5 406v46M331.5 411v41M332.5 414v38M333.5 414v38M334.5 409v43M335.5 404v2M335.5 408v44M336.5 400v3M336.5 404v2M336.5 408v6M336.5 416v36M337.5 400v3M337.5 416v36M371.5 417v35M372.5 413v39M373.5 413v39M374.5 403v5M374.5 412v4M374.5 417v35M375.5 403v5M375.5 412v3M375.5 417v3M375.5 421v31M376.5 411v41M377.5 411v41M378.5 414v38M379.5 414v38M380.5 414v38M381.5 414v38M382.5 415v37M383.5 416v36M384.5 401v5M384.5 417v35M385.5 401v5M385.5 420v32M386.5 418v34M387.5 409v2M387.5 412v40M388.5 409v2M388.5 412v40M389.5 412v40M390.5 412v40M391.5 425v27M392.5 400v2M392.5 417v35M393.5 400v2M393.5 417v35M394.5 420v32M395.5 421v6M395.5 428v24M396.5 419v33M397.5 419v33M398.5 412v2M398.5 415v37M399.5 409v2M399.5 412v40M400.5 409v2M400.5 412v40M401.5 420v32M432.5 418v34M433.5 418v34M434.5 418v34M435.5 418v34M436.5 413v39M437.5 413v39M438.5 413v39M439.5 418v34M440.5 417v35M441.5 417v35M442.5 405v2M442.5 408v2M442.5 425v27M443.5 405v2M443.5 408v2M443.5 429v23M444.5 427v25M445.5 419v33M446.5 419v33M447.5 417v5M447.5 427v25M448.5 412v40M449.5 412v40M450.5 402v5M450.5 412v40M451.5 402v5M451.5 408v44M452.5 408v44M453.5 406v46M454.5 406v12M454.5 419v33M455.5 409v43M456.5 412v40M457.5 412v40M458.5 410v4M458.5 420v32M459.5 410v4M459.5 420v32M489.5 415v37M490.5 411v41M491.5 411v4M491.5 418v34M492.5 418v34M493.5 409v2M493.5 413v39M494.5 406v46M495.5 406v46M496.5 417v35M497.5 409v4M497.5 414v38M498.5 409v4M498.5 414v38M499.5 414v38M500.5 416v36M501.5 416v36M502.5 409v3M502.5 415v37M503.5 409v3M503.5 415v37M504.5 408v6M504.5 415v37M505.5 408v6M505.5 415v37M506.5 408v2M506.5 416v36M507.5 402v12M507.5 416v36M508.5 402v50M509.5 409v43M510.5 414v2M510.5 417v35M511.5 409v43M512.5 409v43M513.5 409v43M514.5 412v40M515.5 406v46M516.5 406v46M537.5 410v42M538.5 410v42M539.5 404v3M539.5 411v41M540.5 404v3M540.5 411v41M541.5 414v38M542.5 401v9M542.5 411v41M543.5 401v9M543.5 411v41M544.5 408v44M545.5 408v44M546.5 414v3M546.5 418v34M547.5 402v7M547.5 421v31M548.5 402v7M548.5 410v3M548.5 414v5M548.5 421v31M549.5 407v6M549.5 414v6M549.5 421v31M550.5 407v3M550.5 414v38M551.5 416v36M552.5 407v3M552.5 415v37M553.5 407v3M553.5 413v39M554.5 413v6M554.5 420v32M573.5 424v28M574.5 413v39M575.5 412v40M576.5 412v40M577.5 408v44M578.5 408v44M579.5 412v40M580.5 420v32M581.5 427v25M582.5 440v12M583.5 427v25M584.5 420v32M585.5 415v37M586.5 416v36M587.5 416v36M588.5 413v2M588.5 416v36M589.5 412v40M590.5 412v40M591.5 416v36M608.5 414v38M609.5 414v38M610.5 401v2M610.5 425v27M611.5 401v2M611.5 420v32M612.5 412v40M613.5 412v40M614.5 415v37M615.5 413v39M616.5 413v39M617.5 408v44M618.5 408v44M619.5 411v41M620.5 411v41M621.5 414v38M622.5 414v38M623.5 428v24M638.5 406v46M639.5 406v46M640.5 412v40M641.5 412v40M642.5 411v3M642.5 415v2M642.5 419v33M643.5 411v3M643.5 415v2M643.5 418v34M644.5 400v4M644.5 414v38M645.5 400v4M645.5 411v41M646.5 410v42M647.5 410v42M648.5 419v33M649.5 420v32M650.5 423v29M658.5 411v41M659.5 411v41M660.5 405v47M661.5 405v47M662.5 407v5M662.5 417v35M663.5 417v35M664.5 412v40M665.5 412v40M666.5 415v37" stroke="#4682b4" stroke-width="1" shape-rendering="crispEdges"/><path d="M210.1 257.2h0M210.1 258.0h0M210.1 259.6h0M210.1 261.2h0M210.1 269.8h0M210.1 272.6h0M210.1 276.0h0M210.1 279.9h0M210.1 287.1h0M210.1 289.2h0M210.1 291.8h0M210.1 294.4h0M210.1 297.8h0M210.1 332.9h0M210.1 334.0h0M210.1 335.0h0M210.1 335.9h0M210.1 336.8h0M210.1 337.9h0M210.1 339.1h0M210.1 340.0h0M210.1 341.0h0M210.1 342.1h0M210.1 343.4h0M210.1 344.2h0M210.1 345.4h0M210.1 346.1h0M210.1 347.2h0M210.1 348.0h0M210.1 349.2h0M210.1 357.3h0M210.1 363.0h0M210.1 366.1h0M210.1 370.3h0M210.1 373.4h0M210.1 377.0h0M210.1 377.6h0M210.1 378.5h0M210.1 379.4h0M210.1 380.1h0M210.1 380.7h0M210.1 381.5h0M210.1 382.3h0M210.1 383.2h0M210.1 383.7h0M210.1 384.3h0M210.1 384.8h0M210.1 385.6h0M210.1 386.1h0M210.1 386.8h0M210.1 387.4h0M210.1 388.0h0M210.1 388.8h0M210.1 389.3h0M210.1 389.9h0M210.1 390.9h0M210.1 391.3h0M210.1 392.3h0M210.1 393.0h0M210.1 393.5h0M210.1 394.2h0M210.1 395.1h0M210.1 395.9h0M210.1 396.5h0M210.1 397.3h0M210.1 397.8h0M210.1 398.5h0M210.1 399.1h0M210.1 399.8h0M210.1 400.6h0M210.1 401.5h0M210.1 402.2h0M210.1 402.7h0M210.1 403.7h0M210.1 404.2h0M210.1 404.8h0M210.1 405.7h0M210.1 406.3h0M210.1 407.3h0M210.1 407.9h0M210.1 408.9h0M210.1 409.8h0M210.1 410.4h0M210.1 411.0h0M210.1 411.5h0M210.1 412.5h0M210.1 413.0h0M210.1 413.8h0M210.1 414.6h0M210.1 415.2h0M210.1 416.1h0M210.1 416.7h0M210.1 417.5h0M210.1 417.9h0M210.1 418.9h0M210.1 419.4h0M210.1 420.1h0M211.2 394.2h0M211.2 396.1h0M211.2 397.6h0M211.2 399.9h0M211.2 401.9h0M211.2 404.7h0M211.2 407.5h0M211.2 409.0h0M211.2 411.7h0M211.2 414.0h0M211.2 417.2h0M211.2 419.1h0M209.0 399.4h0M209.0 402.2h0M209.0 404.6h0M209.0 407.3h0M209.0 409.4h0M209.0 410.9h0M209.0 414.3h0M209.0 416.8h0M209.0 419.6h0M223.2 318.8h0M223.2 369.2h0M223.2 370.6h0M223.2 371.4h0M223.2 372.1h0M223.2 373.4h0M223.2 374.1h0M223.2 375.3h0M223.2 376.3h0M223.2 377.7h0M223.2 378.4h0M223.2 379.7h0M223.2 392.6h0M223.2 400.7h0M223.2 403.1h0M223.2 405.4h0M223.2 408.2h0M223.2 411.0h0M223.2 412.6h0M223.2 415.8h0M223.2 418.9h0M194.0 399.4h0M194.0 402.3h0M194.0 405.7h0M194.0 408.8h0M194.0 410.4h0M194.0 412.4h0M194.0 414.1h0M194.0 415.7h0M194.0 417.8h0M199.0 401.4h0M199.0 403.8h0M199.0 407.0h0M199.0 409.0h0M199.0 412.2h0M199.0 413.8h0M199.0 416.5h0M199.0 419.8h0M204.0 403.5h0M204.0 405.7h0M204.0 408.5h0M204.0 410.8h0M204.0 413.7h0M204.0 415.4h0M204.0 417.3h0M295.5 399.4h0M295.5 401.0h0M295.5 403.6h0M295.5 406.2h0M295.5 408.0h0M295.5 410.5h0M295.5 412.6h0M295.5 414.9h0M295.5 417.7h0M266.0 390.0h0M266.0 399.4h0M266.0 401.1h0M266.0 403.7h0M266.0 405.2h0M266.0 407.6h0M266.0 410.5h0M266.0 412.8h0M266.0 415.4h0M266.0 417.0h0M266.0 419.3h0M341.1 393.8h0M341.1 397.0h0M341.1 398.6h0M341.1 401.6h0M341.1 403.4h0M341.1 406.5h0M341.1 409.4h0M341.1 412.9h0M341.1 415.1h0M341.1 418.5h0M366.6 404.0h0M366.6 407.0h0M366.6 409.4h0M366.6 412.5h0M366.6 415.8h0M366.6 418.4h0M474.3 278.6h0M463.8 353.5h0M474.3 349.7h0M474.3 350.4h0M474.3 351.1h0M474.3 351.8h0M474.3 352.5h0M474.3 353.2h0M474.3 354.2h0M474.3 354.9h0M474.3 355.6h0M474.3 356.4h0M474.3 357.2h0M474.3 358.3h0M474.3 359.2h0M474.3 360.3h0M474.3 360.9h0M474.3 361.7h0M474.3 362.4h0M474.3 363.1h0M474.3 363.8h0M474.3 364.8h0M474.3 365.5h0M474.3 366.5h0M474.3 367.4h0M474.3 373.8h0M474.3 375.3h0M474.3 376.8h0M474.3 378.1h0M474.3 379.6h0M474.3 381.1h0M474.3 382.6h0M474.3 384.0h0M474.3 390.4h0M474.3 392.0h0M474.3 394.4h0M474.3 396.8h0M474.3 398.9h0M474.3 401.2h0M474.3 404.6h0M474.3 406.9h0M474.3 409.2h0M474.3 412.2h0M474.3 415.3h0M474.3 417.0h0M474.3 418.5h0M463.8 391.9h0M463.8 393.5h0M463.8 395.8h0M463.8 399.3h0M463.8 402.6h0M463.8 405.6h0M463.8 408.4h0M463.8 411.7h0M463.8 413.4h0M463.8 415.1h0M463.8 418.4h0M485.9 394.9h0M485.9 397.4h0M475.3 403.5h0M475.3 405.9h0M475.3 408.5h0M475.3 410.0h0M475.3 411.7h0M475.3 413.8h0M475.3 415.4h0M475.3 417.7h0" stroke="#000" stroke-width="2.5" stroke-linecap="round"/><path d="M170.3 338.4h0M170.3 351.0h0M170.3 372.8h0M170.3 374.5h0M170.3 382.7h0M170.3 384.8h0M170.3 386.9h0M170.3 389.6h0M170.3 395.2h0M170.3 397.0h0M170.3 398.9h0M170.3 401.0h0M170.3 403.7h0M170.3 405.7h0M170.3 407.9h0M170.3 410.3h0M170.3 413.2h0M170.3 416.3h0M170.3 419.2h0M171.5 404.5h0M171.5 406.7h0M171.5 409.3h0M171.5 412.2h0M171.5 415.6h0M171.5 418.4h0M168.5 406.6h0M168.5 409.7h0M168.5 411.4h0M168.5 414.6h0M168.5 416.3h0M168.5 418.2h0M238.4 391.6h0M238.4 394.3h0M238.4 397.2h0M238.4 398.9h0M238.4 401.4h0M238.4 403.5h0M238.4 405.7h0M238.4 409.0h0M238.4 411.3h0M238.4 413.3h0M238.4 415.9h0M238.4 419.3h0M253.3 395.2h0M307.4 243.5h0M307.4 244.6h0M307.4 246.2h0M307.4 247.6h0M307.4 249.0h0M307.4 250.4h0M307.4 252.2h0M307.4 253.2h0M307.4 254.2h0M307.4 255.9h0M307.4 257.0h0M307.4 258.1h0M307.4 259.9h0M307.4 261.6h0M307.4 262.6h0M307.4 264.1h0M307.4 266.8h0M307.4 268.2h0M307.4 270.7h0M307.4 272.6h0M307.4 274.1h0M307.4 275.2h0M307.4 276.4h0M307.4 277.8h0M307.4 279.6h0M307.4 280.5h0M307.4 282.6h0M307.4 284.6h0M307.4 286.4h0M307.4 288.2h0M307.4 289.4h0M307.4 290.8h0M307.4 292.7h0M307.4 294.9h0M307.4 297.7h0M307.4 299.0h0M307.4 300.2h0M307.4 301.7h0M307.4 303.7h0M307.4 305.6h0M307.4 307.5h0M307.4 311.7h0M307.4 313.0h0M307.4 314.5h0M307.4 316.4h0M307.4 317.6h0M307.4 318.6h0M307.4 319.6h0M307.4 320.8h0M307.4 322.8h0M307.4 324.9h0M307.4 326.7h0M307.4 328.2h0M307.4 329.5h0M307.4 331.2h0M307.4 333.4h0M307.4 337.1h0M307.4 338.2h0M307.4 339.5h0M307.4 341.0h0M307.4 342.5h0M307.4 344.1h0M307.4 346.7h0M307.4 348.0h0M307.4 349.3h0M307.4 353.9h0M307.4 355.9h0M307.4 357.0h0M307.4 358.9h0M307.4 360.6h0M308.4 249.9h0M308.4 254.2h0M308.4 255.7h0M308.4 257.5h0M308.4 259.5h0M308.4 261.5h0M308.4 264.3h0M308.4 268.3h0M308.4 269.6h0M308.4 271.9h0M308.4 277.3h0M308.4 279.6h0M308.4 283.5h0M308.4 285.9h0M308.4 289.6h0M308.4 291.9h0M308.4 296.3h0M308.4 298.8h0M308.4 301.2h0M308.4 303.9h0M308.4 305.3h0M308.4 309.2h0M308.4 313.3h0M308.4 317.6h0M308.4 319.9h0M308.4 321.4h0M308.4 324.0h0M308.4 328.5h0M308.4 330.4h0M308.4 333.0h0M308.4 334.9h0M308.4 336.7h0M308.4 339.3h0M308.4 341.9h0M308.4 350.6h0M308.4 352.9h0M308.4 354.6h0M308.4 356.9h0M307.9 361.9h0M307.9 362.5h0M307.9 362.9h0M307.9 363.7h0M307.9 364.4h0M307.9 364.9h0M307.9 365.4h0M307.9 366.2h0M307.9 366.9h0M307.9 367.6h0M307.9 368.2h0M307.9 368.6h0M307.9 369.3h0M307.9 369.8h0M307.9 370.3h0M307.9 371.1h0M307.9 371.6h0M307.9 372.2h0M307.9 372.9h0M307.9 373.4h0M307.9 373.9h0M307.9 374.8h0M307.9 375.6h0M307.9 376.3h0M307.9 377.0h0M307.9 377.6h0M307.9 378.0h0M307.9 378.6h0M307.9 379.0h0M307.9 379.6h0M307.9 380.2h0M307.9 380.7h0M307.9 381.3h0M307.9 382.2h0M307.9 382.6h0M307.9 383.3h0M307.9 383.8h0M307.9 384.3h0M307.9 384.8h0M307.9 385.5h0M307.9 386.1h0M307.9 386.5h0M307.9 387.1h0M307.9 387.7h0M307.9 388.4h0M307.9 389.1h0M307.9 389.5h0M307.9 390.4h0M307.9 391.2h0M307.9 391.6h0M307.9 392.3h0M307.9 393.1h0M307.9 393.7h0M307.9 394.4h0M307.9 395.2h0M307.9 395.9h0M307.9 396.7h0M307.9 397.4h0M307.9 398.1h0M307.9 398.5h0M307.9 399.0h0M307.9 399.5h0M307.9 400.3h0M307.9 400.8h0M307.9 401.2h0M307.9 401.7h0M307.9 402.3h0M307.9 403.1h0M307.9 403.6h0M307.9 404.1h0M307.9 404.7h0M307.9 405.2h0M307.9 405.6h0M307.9 406.2h0M307.9 407.1h0M307.9 407.7h0M307.9 408.4h0M307.9 409.3h0M307.9 409.9h0M307.9 410.4h0M307.9 411.2h0M307.9 412.0h0M307.9 412.5h0M307.9 413.0h0M307.9 413.9h0M307.9 414.6h0M307.9 415.5h0M307.9 416.4h0M307.9 416.7h0M307.9 417.5h0M307.9 418.2h0M307.9 419.0h0M307.9 419.5h0M307.9 420.0h0M306.7 364.0h0M306.7 364.5h0M306.7 365.2h0M306.7 365.8h0M306.7 366.4h0M306.7 367.3h0M306.7 368.0h0M306.7 369.1h0M306.7 369.6h0M306.7 370.7h0M306.7 371.5h0M306.7 372.3h0M306.7 373.0h0M306.7 373.9h0M306.7 374.5h0M306.7 375.3h0M306.7 376.1h0M306.7 376.8h0M306.7 377.6h0M306.7 378.6h0M306.7 379.4h0M306.7 380.5h0M306.7 381.4h0M306.7 382.2h0M306.7 383.3h0M306.7 383.8h0M306.7 384.5h0M306.7 385.2h0M306.7 385.9h0M306.7 386.7h0M306.7 387.6h0M306.7 388.7h0M306.7 389.8h0M306.7 390.7h0M306.7 391.3h0M306.7 392.3h0M306.7 393.2h0M306.7 394.0h0M306.7 394.7h0M306.7 395.4h0M306.7 396.3h0M306.7 396.9h0M306.7 397.6h0M306.7 398.4h0M306.7 399.6h0M306.7 400.3h0M306.7 400.8h0M306.7 401.9h0M306.7 402.5h0M306.7 403.5h0M306.7 404.6h0M306.7 405.4h0M306.7 406.5h0M306.7 407.1h0M306.7 407.7h0M306.7 408.5h0M306.7 409.3h0M306.7 410.2h0M306.7 411.4h0M306.7 412.3h0M306.7 412.9h0M306.7 413.5h0M306.7 414.2h0M306.7 415.2h0M306.7 415.9h0M306.7 416.4h0M306.7 417.3h0M306.7 418.4h0M306.7 419.4h0M309.1 364.0h0M309.1 364.9h0M309.1 365.6h0M309.1 366.5h0M309.1 367.1h0M309.1 368.1h0M309.1 369.1h0M309.1 369.7h0M309.1 370.6h0M309.1 371.5h0M309.1 372.7h0M309.1 373.3h0M309.1 374.0h0M309.1 374.8h0M309.1 375.8h0M309.1 376.7h0M309.1 377.4h0M309.1 378.2h0M309.1 378.8h0M309.1 379.3h0M309.1 380.2h0M309.1 381.2h0M309.1 381.9h0M309.1 382.8h0M309.1 383.9h0M309.1 385.1h0M309.1 386.0h0M309.1 386.5h0M309.1 387.2h0M309.1 388.0h0M309.1 388.5h0M309.1 389.4h0M309.1 390.2h0M309.1 390.7h0M309.1 391.7h0M309.1 392.9h0M309.1 393.9h0M309.1 394.8h0M309.1 395.4h0M309.1 396.5h0M309.1 397.1h0M309.1 397.7h0M309.1 398.4h0M309.1 399.2h0M309.1 399.9h0M309.1 400.7h0M309.1 401.7h0M309.1 402.5h0M309.1 403.5h0M309.1 404.5h0M309.1 405.6h0M309.1 406.6h0M309.1 407.6h0M309.1 408.7h0M309.1 409.3h0M309.1 410.2h0M309.1 410.9h0M309.1 411.6h0M309.1 412.2h0M309.1 413.2h0M309.1 413.8h0M309.1 414.7h0M309.1 415.7h0M309.1 416.3h0M309.1 417.1h0M309.1 418.2h0M309.1 418.7h0M309.1 419.8h0M305.5 399.4h0M305.5 400.9h0M305.5 402.5h0M305.5 405.2h0M305.5 406.8h0M305.5 409.4h0M305.5 410.9h0M305.5 413.9h0M305.5 416.8h0M305.5 418.9h0M310.3 401.4h0M310.3 403.9h0M310.3 406.1h0M310.3 408.0h0M310.3 409.5h0M310.3 411.2h0M310.3 414.1h0M310.3 417.2h0M310.3 419.1h0M313.0 398.3h0M322.9 398.3h0M375.5 262.8h0M375.5 272.0h0M375.5 338.4h0M375.5 339.4h0M375.5 340.7h0M375.5 341.5h0M375.5 342.8h0M375.5 343.4h0M375.5 344.5h0M375.5 345.8h0M375.5 347.0h0M375.5 347.9h0M375.5 361.5h0M375.5 362.6h0M375.5 364.3h0M375.5 365.8h0M375.5 366.9h0M375.5 368.6h0M375.5 374.4h0M375.5 375.5h0M375.5 376.8h0M375.5 378.4h0M375.5 379.8h0M375.5 381.0h0M375.5 382.0h0M375.5 389.2h0M375.5 392.4h0M375.5 394.5h0M375.5 397.8h0M375.5 400.3h0M375.5 403.1h0M375.5 405.3h0M375.5 407.6h0M375.5 410.8h0M375.5 413.2h0M375.5 416.3h0M375.5 418.5h0M394.3 381.7h0M394.3 395.7h0M376.5 403.5h0M376.5 406.6h0M376.5 409.3h0M376.5 411.9h0M376.5 414.4h0M376.5 417.1h0M659.2 392.1h0" stroke="#4682b4" stroke-width="2.5" stroke-linecap="round"/><line x1="61.400000000000006" y1="375.5" x2="682.0999999999999" y2="375.5" stroke="#cc4a62" stroke-width="2" stroke-dasharray="5.4 3.47" stroke-dashoffset="0.97"/><rect x="60.7" y="234.0" width="622.1" height="223.9" fill="none" stroke="#000" stroke-width="1.6"/><path d="M54.1 451.3H60.7M54.1 425.3H60.7M54.1 399.4H60.7M54.1 373.4H60.7M54.1 347.4H60.7M54.1 321.4H60.7M54.1 295.4H60.7M54.1 269.5H60.7M54.1 243.5H60.7M78.2 457.9v5M129.9 457.9v5M181.4 457.9v5M223.3 457.9v5M264.1 457.9v5M302.0 457.9v5M338.2 457.9v5M371.5 457.9v5M402.6 457.9v5M432.2 457.9v5M461.0 457.9v5M489.2 457.9v5M517.4 457.9v5M537.5 457.9v5M556.0 457.9v5M573.3 457.9v5M592.1 457.9v5M608.7 457.9v5M624.8 457.9v5M638.3 457.9v5M651.5 457.9v5M658.8 457.9v5M665.8 457.9v5" stroke="#000" stroke-width="1.8" fill="none"/><text x="48.3" y="457.2" text-anchor="end" font-size="17">0</text><text x="48.3" y="405.2" text-anchor="end" font-size="17">5</text><text x="48.3" y="353.3" text-anchor="end" font-size="17">10</text><text x="48.3" y="301.3" text-anchor="end" font-size="17">15</text><text x="48.3" y="249.4" text-anchor="end" font-size="17">20</text><rect x="161.5" y="311.5" width="18.5" height="29.8" fill="#fff" stroke="#222" stroke-width="1.15"/><text x="170.8" y="332.6" text-anchor="middle" font-size="16.5">1</text><rect x="200.2" y="301.4" width="19.3" height="29.9" fill="#fff" stroke="#222" stroke-width="1.15"/><text x="209.8" y="322.6" text-anchor="middle" font-size="16.5">2</text><rect x="215.3" y="266.2" width="18.3" height="29.8" fill="#fff" stroke="#222" stroke-width="1.15"/><text x="224.4" y="287.3" text-anchor="middle" font-size="16.5">3</text><rect x="298.0" y="329.6" width="18.8" height="29.1" fill="#fff" stroke="#222" stroke-width="1.15"/><text x="307.4" y="350.3" text-anchor="middle" font-size="16.5">4</text><rect x="366.8" y="297.6" width="19.2" height="28.8" fill="#fff" stroke="#222" stroke-width="1.15"/><text x="376.4" y="318.2" text-anchor="middle" font-size="16.5">6</text><rect x="451.3" y="320.4" width="19.5" height="30.1" fill="#fff" stroke="#222" stroke-width="1.15"/><text x="461.1" y="341.6" text-anchor="middle" font-size="16.5">8</text><rect x="463.0" y="289.1" width="19.4" height="29.3" fill="#fff" stroke="#222" stroke-width="1.15"/><text x="472.7" y="309.9" text-anchor="middle" font-size="16.5">9</text><rect x="638.4" y="332.2" width="37.0" height="29.1" fill="#fff" stroke="#222" stroke-width="1.15"/><text x="658.1" y="352.9" text-anchor="middle" font-size="16.5">11</text><text x="533.2" y="273.5" text-anchor="middle" font-size="16.8">Transferrin</text><path d="M78.5 651v8M78.5 660v26M79.5 638v3M79.5 645v41M80.5 638v3M80.5 645v41M81.5 642v3M81.5 648v38M82.5 642v3M82.5 648v38M83.5 645v41M84.5 643v43M85.5 643v2M85.5 646v40M86.5 639v2M86.5 645v41M87.5 639v2M87.5 642v44M88.5 642v44M89.5 646v3M89.5 652v34M90.5 635v2M90.5 638v11M90.5 650v36M91.5 635v2M91.5 638v48M92.5 645v41M93.5 649v37M94.5 654v32M95.5 640v2M95.5 647v39M96.5 638v4M96.5 647v39M97.5 638v3M97.5 647v2M97.5 651v35M98.5 637v3M98.5 642v4M98.5 647v2M98.5 650v36M99.5 637v3M99.5 642v4M99.5 647v2M99.5 650v36M100.5 647v2M100.5 654v32M101.5 649v3M101.5 653v33M102.5 644v42M103.5 638v48M104.5 638v8M104.5 654v32M108.5 646v3M108.5 650v5M108.5 657v29M109.5 642v44M110.5 642v44M111.5 647v39M112.5 639v7M112.5 647v39M113.5 639v7M113.5 647v39M114.5 647v39M115.5 642v3M115.5 646v40M116.5 642v3M116.5 646v40M117.5 652v34M118.5 634v2M118.5 652v34M119.5 634v2M119.5 641v45M120.5 634v2M120.5 638v2M120.5 641v45M121.5 634v2M121.5 638v2M121.5 641v45M122.5 653v33M123.5 655v31M124.5 645v41M125.5 645v41M126.5 646v3M126.5 650v36M127.5 638v5M127.5 644v42M128.5 638v5M128.5 644v42M181.5 637v4M181.5 642v3M181.5 646v40M182.5 637v4M182.5 642v3M182.5 646v40M183.5 647v39M184.5 647v5M184.5 653v33M185.5 640v12M185.5 653v33M186.5 633v6M186.5 640v9M186.5 656v30M187.5 633v12M187.5 650v36M188.5 638v5M188.5 650v36M189.5 638v5M189.5 651v35M190.5 642v4M190.5 651v35M191.5 642v4M191.5 652v34M192.5 652v34M193.5 651v35M194.5 647v39M195.5 639v4M195.5 646v40M196.5 639v4M196.5 646v40M197.5 648v38M198.5 648v2M198.5 651v35M199.5 640v3M199.5 645v41M200.5 640v3M200.5 645v41M201.5 652v34M202.5 639v4M202.5 644v2M202.5 647v39M203.5 639v4M203.5 644v42M204.5 646v40M205.5 648v38M206.5 648v38M207.5 646v40M208.5 646v40M209.5 640v8M209.5 653v33M210.5 640v8M210.5 651v35M211.5 650v36M212.5 648v38M213.5 648v38M214.5 650v36M215.5 644v42M216.5 644v42M217.5 646v7M217.5 656v30M218.5 647v39M219.5 650v36M220.5 650v36M221.5 650v36M222.5 658v28M264.5 646v2M264.5 649v3M264.5 653v33M265.5 646v6M265.5 653v33M266.5 646v5M266.5 656v30M267.5 634v5M267.5 645v3M267.5 649v3M267.5 653v33M268.5 634v5M268.5 643v43M269.5 643v43M270.5 646v40M271.5 644v42M272.5 644v3M272.5 649v37M273.5 639v9M273.5 651v35M274.5 639v47M275.5 647v39M276.5 643v5M276.5 650v3M276.5 654v32M277.5 643v43M278.5 648v38M279.5 654v32M280.5 641v45M281.5 641v45M282.5 652v34M283.5 649v37M284.5 649v37M285.5 650v36M286.5 636v50M287.5 636v50M288.5 653v33M289.5 654v32M290.5 646v40M291.5 646v40M292.5 647v39M293.5 649v2M293.5 652v34M294.5 642v7M294.5 651v35M295.5 637v12M295.5 650v36M296.5 637v6M296.5 644v5M296.5 650v2M296.5 653v33M297.5 648v4M297.5 654v32M298.5 648v38M299.5 652v34M300.5 654v32M338.5 665v21M339.5 654v32M340.5 643v2M340.5 646v6M340.5 653v33M341.5 642v44M342.5 642v44M343.5 643v3M343.5 647v39M344.5 646v40M345.5 646v40M346.5 654v32M347.5 646v40M348.5 646v40M349.5 643v43M350.5 643v43M351.5 636v6M351.5 644v3M351.5 650v36M352.5 636v6M352.5 644v3M352.5 649v37M353.5 647v39M354.5 643v3M354.5 647v39M355.5 643v43M356.5 646v2M356.5 656v30M357.5 650v3M357.5 654v32M358.5 650v3M358.5 654v32M359.5 644v42M360.5 644v42M361.5 648v38M362.5 642v4M362.5 648v38M363.5 642v4M363.5 648v38M364.5 646v40M365.5 645v41M366.5 643v43M367.5 643v43M368.5 651v35M369.5 650v36M370.5 650v3M370.5 658v28M402.5 647v2M402.5 651v3M402.5 655v31M403.5 642v3M403.5 646v40M404.5 642v44M405.5 642v44M406.5 649v37M407.5 651v35M408.5 651v35M409.5 650v36M410.5 650v36M411.5 650v36M412.5 650v5M412.5 657v29M417.5 646v40M418.5 639v47M419.5 639v7M419.5 650v36M420.5 650v3M420.5 654v32M421.5 650v3M421.5 654v32M422.5 643v4M422.5 650v36M423.5 643v4M423.5 652v34M424.5 641v8M424.5 650v2M424.5 653v33M425.5 641v8M425.5 650v36M426.5 643v43M427.5 643v43M428.5 648v38M429.5 653v33M430.5 643v3M430.5 651v35M431.5 643v3M431.5 651v35M460.5 650v36M461.5 650v36M462.5 648v38M463.5 648v38M464.5 658v28M465.5 657v29M466.5 641v4M466.5 653v33M467.5 641v4M467.5 649v37M468.5 649v37M469.5 649v37M470.5 645v41M471.5 645v41M472.5 644v42M473.5 642v44M474.5 642v44M475.5 644v6M475.5 651v35M476.5 643v5M476.5 650v4M476.5 655v31M477.5 643v2M477.5 650v36M478.5 646v40M479.5 646v40M480.5 643v43M481.5 643v43M482.5 648v6M482.5 655v31M483.5 655v5M483.5 661v25M484.5 642v11M484.5 654v32M485.5 642v44M486.5 646v4M486.5 651v35M487.5 646v40M488.5 647v39M517.5 655v5M517.5 662v24M518.5 643v5M518.5 655v31M519.5 639v9M519.5 650v36M520.5 637v6M520.5 644v2M520.5 650v36M521.5 637v5M521.5 646v40M522.5 645v41M523.5 645v41M524.5 647v3M524.5 651v35M525.5 634v2M525.5 647v3M525.5 651v35M526.5 634v2M526.5 640v4M526.5 646v40M527.5 633v5M527.5 639v5M527.5 646v40M528.5 633v5M528.5 639v4M528.5 647v39M529.5 647v6M529.5 656v30M530.5 645v41M531.5 635v5M531.5 641v45M532.5 635v51M533.5 640v6M533.5 648v38M534.5 641v4M534.5 648v38M535.5 646v40M536.5 646v40M555.5 641v2M555.5 645v41M556.5 641v2M556.5 645v41M557.5 650v2M557.5 654v32M558.5 651v3M558.5 655v31M559.5 647v8M559.5 656v30M560.5 647v39M561.5 652v34M562.5 653v33M563.5 636v2M563.5 642v6M563.5 650v36M564.5 636v2M564.5 642v44M565.5 647v39M566.5 647v3M566.5 651v2M566.5 654v32M567.5 654v32M568.5 647v39M569.5 646v40M570.5 646v5M570.5 652v34M571.5 650v36M572.5 650v6M572.5 657v29M592.5 652v2M592.5 656v30M593.5 649v2M593.5 652v2M593.5 656v30M594.5 646v2M594.5 649v37M595.5 646v40M596.5 647v39M597.5 642v4M597.5 647v39M598.5 642v44M599.5 646v40M600.5 648v38M601.5 648v38M602.5 648v38M603.5 647v39M604.5 647v39M605.5 649v37M606.5 643v3M606.5 650v36M607.5 643v3M607.5 652v3M607.5 656v30M624.5 648v38M625.5 648v38M626.5 653v33M627.5 640v4M627.5 649v3M627.5 653v33M628.5 639v7M628.5 649v3M628.5 653v33M629.5 639v7M629.5 647v2M629.5 650v36M630.5 639v5M630.5 646v40M631.5 639v5M631.5 646v40M632.5 647v39M633.5 654v32M634.5 639v2M634.5 647v39M635.5 639v2M635.5 647v39M636.5 648v38M637.5 648v38M651.5 657v29M652.5 656v30M653.5 646v40M654.5 646v40M655.5 650v36M656.5 647v39M657.5 647v39" stroke="#000" stroke-width="1" shape-rendering="crispEdges"/><path d="M129.5 650v5M129.5 656v30M130.5 645v4M130.5 650v5M130.5 656v30M131.5 645v4M131.5 650v36M132.5 647v5M132.5 653v33M133.5 643v43M134.5 639v47M135.5 637v49M136.5 637v9M136.5 647v39M137.5 649v37M138.5 649v37M139.5 649v37M140.5 643v3M140.5 649v37M141.5 643v3M141.5 651v35M142.5 647v39M143.5 647v39M144.5 653v33M145.5 646v40M146.5 643v43M147.5 643v3M147.5 650v36M148.5 650v6M148.5 657v29M149.5 651v35M150.5 647v5M150.5 653v33M151.5 647v39M152.5 641v2M152.5 650v36M153.5 641v2M153.5 651v35M154.5 638v3M154.5 642v2M154.5 651v35M155.5 638v3M155.5 642v2M155.5 649v37M156.5 649v7M156.5 657v29M157.5 648v38M158.5 642v44M159.5 642v44M160.5 643v3M160.5 647v39M161.5 643v3M161.5 647v39M162.5 644v9M162.5 654v32M163.5 644v42M164.5 645v41M165.5 652v34M166.5 645v41M167.5 645v41M168.5 637v2M168.5 640v5M168.5 646v2M168.5 649v37M169.5 637v2M169.5 640v5M169.5 646v2M169.5 650v36M170.5 651v35M171.5 654v32M172.5 654v32M173.5 641v3M173.5 655v31M174.5 641v45M175.5 643v43M176.5 645v41M177.5 645v3M177.5 649v37M178.5 649v37M179.5 651v35M180.5 651v35M223.5 658v28M224.5 653v33M225.5 653v33M226.5 655v31M227.5 649v37M228.5 649v37M229.5 644v42M230.5 644v42M231.5 641v45M232.5 641v45M233.5 648v38M234.5 648v38M235.5 649v37M236.5 638v48M237.5 638v48M238.5 643v43M239.5 635v6M239.5 643v43M240.5 635v6M240.5 642v44M241.5 639v2M241.5 642v44M242.5 645v41M243.5 645v41M244.5 633v7M244.5 643v43M245.5 633v7M245.5 643v43M246.5 641v45M247.5 641v45M248.5 646v2M248.5 649v5M248.5 657v29M249.5 646v8M249.5 655v31M250.5 646v40M251.5 643v6M251.5 652v34M252.5 639v47M253.5 639v4M253.5 645v41M254.5 646v40M255.5 646v40M256.5 647v39M257.5 645v41M258.5 645v41M259.5 645v2M259.5 649v37M260.5 652v34M261.5 652v34M262.5 650v36M263.5 650v36M301.5 646v40M302.5 646v40M303.5 644v42M304.5 641v7M304.5 649v37M305.5 641v7M305.5 649v37M306.5 649v37M307.5 646v40M308.5 642v3M308.5 646v40M309.5 642v44M310.5 644v42M311.5 644v42M312.5 644v42M313.5 641v45M314.5 641v45M315.5 647v5M315.5 653v33M316.5 641v2M316.5 654v32M317.5 641v2M317.5 653v33M318.5 651v35M319.5 651v35M320.5 651v35M321.5 646v40M322.5 646v40M323.5 651v35M324.5 646v2M324.5 650v36M325.5 646v2M325.5 650v36M326.5 652v2M326.5 657v29M327.5 649v37M328.5 641v45M329.5 641v45M330.5 649v37M331.5 642v3M331.5 649v37M332.5 633v4M332.5 642v3M332.5 648v38M333.5 633v4M333.5 648v38M334.5 650v36M335.5 650v36M336.5 654v32M337.5 654v32M371.5 649v37M372.5 649v37M373.5 643v43M374.5 643v43M375.5 644v42M376.5 643v43M377.5 633v2M377.5 638v2M377.5 643v43M378.5 633v2M378.5 638v2M378.5 643v43M379.5 643v43M380.5 654v32M381.5 641v2M381.5 644v42M382.5 641v2M382.5 644v42M383.5 647v39M384.5 645v9M384.5 655v31M385.5 645v8M385.5 654v32M386.5 647v39M387.5 647v39M388.5 650v36M389.5 655v31M390.5 655v31M391.5 655v31M392.5 647v39M393.5 647v39M394.5 650v36M395.5 647v2M395.5 650v36M396.5 634v7M396.5 643v43M397.5 634v7M397.5 643v43M398.5 643v43M399.5 652v34M400.5 643v6M400.5 651v35M401.5 643v6M401.5 651v35M432.5 653v33M433.5 653v33M434.5 653v33M435.5 643v3M435.5 649v2M435.5 652v34M436.5 643v3M436.5 649v37M437.5 642v44M438.5 637v49M439.5 637v49M440.5 644v3M440.5 649v37M441.5 641v8M441.5 650v36M442.5 641v45M443.5 644v42M444.5 633v6M444.5 644v42M445.5 633v6M445.5 642v44M446.5 642v44M447.5 644v3M447.5 649v37M448.5 644v3M448.5 652v4M448.5 657v29M449.5 653v33M450.5 634v5M450.5 653v33M451.5 634v5M451.5 654v32M452.5 635v6M452.5 642v4M452.5 648v38M453.5 635v6M453.5 642v44M454.5 646v40M455.5 650v36M456.5 642v44M457.5 642v44M458.5 643v4M458.5 649v37M459.5 643v4M459.5 649v37M489.5 645v41M490.5 645v41M491.5 643v43M492.5 643v6M492.5 650v36M493.5 650v36M494.5 652v34M495.5 652v34M496.5 654v32M497.5 652v34M498.5 652v34M499.5 640v3M499.5 645v41M500.5 640v3M500.5 645v41M501.5 642v44M502.5 642v44M503.5 646v5M503.5 653v33M504.5 644v7M504.5 653v33M505.5 644v2M505.5 647v39M506.5 647v39M507.5 645v3M507.5 650v2M507.5 653v33M508.5 641v7M508.5 650v36M509.5 637v2M509.5 641v45M510.5 637v2M510.5 644v42M511.5 644v3M511.5 653v33M512.5 649v37M513.5 635v2M513.5 639v47M514.5 635v2M514.5 639v47M515.5 653v33M516.5 653v33M537.5 653v33M538.5 639v47M539.5 639v47M540.5 647v2M540.5 650v36M541.5 633v2M541.5 638v2M541.5 642v2M541.5 649v37M542.5 633v2M542.5 638v2M542.5 642v2M542.5 649v37M543.5 651v35M544.5 651v35M545.5 656v30M546.5 651v35M547.5 649v37M548.5 645v2M548.5 648v38M549.5 645v2M549.5 648v38M550.5 646v40M551.5 646v7M551.5 655v31M552.5 644v6M552.5 651v35M553.5 644v42M554.5 649v37M573.5 654v2M573.5 657v29M574.5 654v2M574.5 657v29M575.5 655v31M576.5 652v34M577.5 649v37M578.5 649v37M579.5 651v35M580.5 653v33M581.5 661v25M582.5 673v13M583.5 661v25M584.5 653v33M585.5 647v39M586.5 644v5M586.5 650v2M586.5 653v33M587.5 644v42M588.5 642v44M589.5 642v44M590.5 648v38M591.5 656v30M608.5 642v44M609.5 642v44M610.5 643v43M611.5 643v11M611.5 656v30M612.5 645v41M613.5 646v40M614.5 649v37M615.5 646v40M616.5 646v40M617.5 653v33M618.5 653v33M619.5 633v6M619.5 647v39M620.5 633v6M620.5 645v41M621.5 645v41M622.5 654v32M623.5 654v32M638.5 650v36M639.5 650v36M640.5 636v3M640.5 643v43M641.5 636v3M641.5 643v43M642.5 651v35M643.5 646v40M644.5 646v40M645.5 648v38M646.5 647v39M647.5 644v42M648.5 644v42M649.5 641v2M649.5 644v42M650.5 641v2M650.5 644v42M658.5 649v37M659.5 640v5M659.5 647v39M660.5 640v5M660.5 647v39M661.5 647v39M662.5 639v3M662.5 647v39M663.5 639v3M663.5 651v35M664.5 651v35M665.5 653v33M666.5 653v33" stroke="#4682b4" stroke-width="1" shape-rendering="crispEdges"/><path d="M210.0 483.3h0M210.0 484.2h0M210.0 485.2h0M210.0 486.2h0M210.0 487.0h0M210.0 488.2h0M210.0 489.7h0M210.0 490.6h0M210.0 491.7h0M210.0 508.1h0M210.0 515.0h0M210.0 539.6h0M210.0 541.5h0M210.0 549.0h0M210.0 551.4h0M210.0 553.9h0M210.0 600.6h0M210.0 601.4h0M210.0 603.1h0M210.0 604.1h0M210.0 605.5h0M210.0 606.6h0M210.0 611.0h0M210.0 616.9h0M210.0 619.3h0M210.0 621.7h0M210.0 625.0h0M210.0 627.7h0M210.0 630.5h0M210.0 634.6h0M210.0 635.2h0M210.0 636.1h0M210.0 637.0h0M210.0 637.9h0M210.0 639.0h0M210.0 640.0h0M210.0 640.6h0M210.0 641.5h0M210.0 642.7h0M210.0 643.4h0M210.0 644.3h0M210.0 645.3h0M210.0 646.1h0M210.0 647.1h0M210.0 647.7h0M210.0 648.3h0M210.0 649.3h0M210.0 650.0h0M210.0 650.8h0M210.0 651.9h0M210.0 652.5h0M211.1 636.7h0M211.1 639.0h0M211.1 642.1h0M211.1 643.9h0M211.1 646.5h0M211.1 649.9h0M211.1 652.3h0M223.7 610.0h0M223.7 623.5h0M223.7 626.0h0M223.7 628.6h0M223.7 630.6h0M223.7 633.3h0M223.7 635.5h0M223.7 638.7h0M223.7 641.2h0M223.7 644.3h0M223.7 647.1h0M223.7 650.2h0M196.1 633.0h0M196.1 634.5h0M196.1 637.5h0M196.1 640.7h0M196.1 643.3h0M196.1 645.3h0M196.1 648.0h0M196.1 650.7h0M205.0 637.7h0M205.0 640.3h0M205.0 642.2h0M205.0 643.8h0M205.0 645.7h0M205.0 647.6h0M205.0 650.0h0M205.0 653.0h0M360.1 568.2h0M360.1 579.5h0M360.1 594.7h0M360.1 606.3h0M360.1 607.5h0M360.1 609.1h0M360.1 620.6h0M360.1 622.5h0M360.1 624.9h0M360.1 637.7h0M360.1 640.8h0M360.1 644.1h0M360.1 646.5h0M360.1 649.5h0M360.1 651.4h0M345.0 639.8h0M345.0 641.6h0M345.0 643.9h0M345.0 646.8h0M345.0 649.3h0M345.0 652.8h0M592.6 626.3h0M592.6 634.6h0M592.6 636.8h0M592.6 638.6h0M592.6 640.6h0M592.6 643.7h0M592.6 646.7h0M592.6 649.6h0M592.6 652.1h0M637.0 634.6h0M637.0 636.6h0M637.0 638.9h0M637.0 642.3h0M637.0 643.9h0M637.0 647.2h0M637.0 649.9h0M637.0 652.5h0M655.0 636.7h0M655.0 638.6h0M655.0 642.0h0M655.0 644.3h0M655.0 646.2h0M655.0 648.7h0M655.0 652.2h0" stroke="#000" stroke-width="2.5" stroke-linecap="round"/><path d="M155.5 634.6h0M155.5 637.0h0M155.5 640.4h0M155.5 642.8h0M155.5 645.9h0M155.5 648.3h0M155.5 651.4h0M155.5 653.0h0M181.0 630.4h0M181.0 633.2h0M181.0 634.8h0M181.0 637.7h0M181.0 639.7h0M181.0 642.7h0M181.0 644.7h0M181.0 647.7h0M181.0 649.4h0M181.0 652.2h0M308.5 476.7h0M308.0 483.3h0M308.0 484.7h0M308.0 486.2h0M308.0 488.3h0M308.0 489.4h0M308.0 491.1h0M308.0 492.2h0M308.0 494.2h0M308.0 495.3h0M308.0 496.6h0M308.0 498.5h0M308.0 500.2h0M308.0 503.0h0M308.0 504.6h0M308.0 505.9h0M308.0 507.1h0M308.0 509.1h0M308.0 511.2h0M308.0 513.4h0M308.0 514.4h0M308.0 515.6h0M308.0 517.7h0M308.0 519.4h0M308.0 520.6h0M308.0 521.9h0M308.0 523.8h0M308.0 525.4h0M308.0 526.8h0M308.0 528.2h0M308.0 529.2h0M308.0 530.3h0M308.0 532.1h0M308.0 533.5h0M308.0 535.5h0M308.0 537.5h0M308.0 538.8h0M308.0 540.6h0M308.0 541.6h0M308.0 542.6h0M308.0 544.6h0M308.0 546.5h0M308.0 548.3h0M308.0 550.1h0M308.0 551.1h0M308.0 552.2h0M308.0 555.4h0M308.0 557.2h0M308.0 559.1h0M308.0 560.9h0M308.0 562.8h0M308.0 564.2h0M309.0 484.8h0M309.0 488.0h0M309.0 493.2h0M309.0 494.5h0M309.0 505.2h0M309.0 507.2h0M309.0 509.9h0M309.0 511.4h0M309.0 513.9h0M309.0 515.8h0M309.0 518.0h0M309.0 520.1h0M309.0 522.5h0M309.0 525.2h0M309.0 528.5h0M309.0 531.1h0M309.0 532.6h0M309.0 534.8h0M309.0 537.2h0M309.0 538.9h0M309.0 543.0h0M309.0 545.9h0M309.0 549.5h0M309.0 551.7h0M309.0 554.8h0M309.0 558.0h0M309.0 560.5h0M309.0 561.9h0M309.0 564.5h0M308.5 591.9h0M308.5 592.4h0M308.5 593.0h0M308.5 593.8h0M308.5 594.2h0M308.5 595.1h0M308.5 595.7h0M308.5 596.4h0M308.5 596.9h0M308.5 597.7h0M308.5 598.4h0M308.5 598.8h0M308.5 599.5h0M308.5 600.3h0M308.5 601.1h0M308.5 601.8h0M308.5 602.3h0M308.5 602.9h0M308.5 603.5h0M308.5 604.1h0M308.5 604.9h0M308.5 605.8h0M308.5 606.2h0M308.5 606.7h0M308.5 607.1h0M308.5 607.9h0M308.5 608.3h0M308.5 608.9h0M308.5 609.6h0M308.5 610.2h0M308.5 610.6h0M308.5 611.3h0M308.5 612.1h0M308.5 612.7h0M308.5 613.5h0M308.5 614.0h0M308.5 614.8h0M308.5 615.7h0M308.5 616.4h0M308.5 617.0h0M308.5 617.3h0M308.5 618.0h0M308.5 618.7h0M308.5 619.5h0M308.5 620.1h0M308.5 620.8h0M308.5 621.6h0M308.5 622.1h0M308.5 622.9h0M308.5 623.3h0M308.5 623.8h0M308.5 624.4h0M308.5 624.8h0M308.5 625.6h0M308.5 626.2h0M308.5 626.8h0M308.5 627.6h0M308.5 628.3h0M308.5 628.9h0M308.5 629.5h0M308.5 630.0h0M308.5 630.8h0M308.5 631.5h0M308.5 632.4h0M308.5 633.0h0M308.5 633.9h0M308.5 634.5h0M308.5 635.4h0M308.5 636.2h0M308.5 636.6h0M308.5 637.0h0M308.5 637.5h0M308.5 638.3h0M308.5 638.8h0M308.5 639.5h0M308.5 640.1h0M308.5 640.8h0M308.5 641.6h0M308.5 642.0h0M308.5 642.7h0M308.5 643.5h0M308.5 644.2h0M308.5 644.6h0M308.5 645.5h0M308.5 645.9h0M308.5 646.4h0M308.5 647.0h0M308.5 647.8h0M308.5 648.3h0M308.5 649.0h0M308.5 649.6h0M308.5 650.4h0M308.5 651.0h0M308.5 651.7h0M308.5 652.5h0M308.5 653.0h0M307.4 596.1h0M307.4 596.8h0M307.4 597.6h0M307.4 598.8h0M307.4 599.3h0M307.4 600.1h0M307.4 600.7h0M307.4 601.6h0M307.4 602.5h0M307.4 603.5h0M307.4 604.3h0M307.4 605.1h0M307.4 605.7h0M307.4 606.7h0M307.4 607.4h0M307.4 608.0h0M307.4 608.7h0M307.4 609.2h0M307.4 610.3h0M307.4 611.2h0M307.4 612.2h0M307.4 612.8h0M307.4 613.8h0M307.4 614.9h0M307.4 615.8h0M307.4 616.3h0M307.4 617.5h0M307.4 618.5h0M307.4 619.3h0M307.4 619.8h0M307.4 620.6h0M307.4 621.4h0M307.4 622.1h0M307.4 622.9h0M307.4 623.9h0M307.4 625.0h0M307.4 625.9h0M307.4 626.7h0M307.4 627.3h0M307.4 628.3h0M307.4 628.9h0M307.4 630.0h0M307.4 630.9h0M307.4 631.6h0M307.4 632.2h0M307.4 632.8h0M307.4 633.7h0M307.4 634.6h0M307.4 635.6h0M307.4 636.1h0M307.4 637.1h0M307.4 637.8h0M307.4 638.7h0M307.4 639.2h0M307.4 640.2h0M307.4 640.7h0M307.4 641.2h0M307.4 642.3h0M307.4 643.1h0M307.4 644.1h0M307.4 644.7h0M307.4 645.3h0M307.4 646.3h0M307.4 647.2h0M307.4 648.3h0M307.4 648.9h0M307.4 649.7h0M307.4 650.6h0M307.4 651.3h0M307.4 651.8h0M307.4 652.4h0M307.4 652.9h0M309.6 598.2h0M309.6 599.3h0M309.6 600.1h0M309.6 600.8h0M309.6 601.5h0M309.6 602.6h0M309.6 603.7h0M309.6 604.3h0M309.6 604.8h0M309.6 605.5h0M309.6 606.4h0M309.6 607.5h0M309.6 608.6h0M309.6 609.6h0M309.6 610.4h0M309.6 611.0h0M309.6 612.1h0M309.6 613.0h0M309.6 614.0h0M309.6 614.6h0M309.6 615.3h0M309.6 616.1h0M309.6 616.9h0M309.6 618.0h0M309.6 619.1h0M309.6 619.7h0M309.6 620.8h0M309.6 621.9h0M309.6 622.6h0M309.6 623.4h0M309.6 624.0h0M309.6 624.8h0M309.6 625.4h0M309.6 626.5h0M309.6 627.3h0M309.6 627.9h0M309.6 629.0h0M309.6 630.1h0M309.6 631.0h0M309.6 631.8h0M309.6 632.8h0M309.6 633.8h0M309.6 634.4h0M309.6 635.3h0M309.6 636.3h0M309.6 637.3h0M309.6 638.0h0M309.6 638.8h0M309.6 640.0h0M309.6 640.7h0M309.6 641.7h0M309.6 642.6h0M309.6 643.6h0M309.6 644.5h0M309.6 645.3h0M309.6 646.1h0M309.6 646.6h0M309.6 647.2h0M309.6 648.1h0M309.6 649.3h0M309.6 649.8h0M309.6 650.3h0M309.6 651.0h0M309.6 651.7h0M309.6 652.3h0M309.6 653.3h0M314.4 626.3h0M314.4 626.8h0M314.4 627.4h0M314.4 628.3h0M314.4 629.0h0M314.4 630.0h0M314.4 630.7h0M314.4 631.4h0M314.4 632.0h0M314.4 632.8h0M314.4 633.7h0M314.4 634.7h0M314.4 635.5h0M314.4 636.6h0M314.4 637.2h0M314.4 637.7h0M314.4 638.5h0M314.4 639.3h0M314.4 639.9h0M314.4 640.9h0M314.4 642.1h0M314.4 643.2h0M314.4 644.0h0M314.4 644.8h0M314.4 645.8h0M314.4 646.5h0M314.4 647.2h0M314.4 648.1h0M314.4 649.2h0M314.4 650.2h0M314.4 650.8h0M314.4 651.7h0M314.4 652.3h0M314.4 652.9h0M331.5 617.7h0M331.5 623.4h0M331.5 629.6h0M331.5 633.0h0M331.5 638.9h0M331.5 647.0h0M331.5 650.0h0M331.5 651.6h0M306.0 636.7h0M306.0 639.1h0M306.0 641.4h0M306.0 643.1h0M306.0 645.5h0M306.0 647.7h0M306.0 650.8h0M306.0 653.1h0M311.0 638.7h0M311.0 641.0h0M311.0 642.7h0M311.0 645.8h0M311.0 648.4h0M311.0 650.7h0M494.9 621.9h0M494.9 623.8h0M494.9 627.1h0M494.9 628.7h0M494.9 633.9h0M494.9 636.9h0M494.9 639.9h0M494.9 641.7h0M494.9 644.6h0M494.9 647.8h0M494.9 650.6h0M663.7 475.8h0M663.7 476.5h0M663.7 477.9h0M663.7 478.7h0M663.7 487.9h0M663.7 499.4h0M663.7 502.5h0M663.7 510.0h0M663.7 512.4h0M663.7 515.0h0M663.7 517.7h0M663.7 524.3h0M663.7 526.4h0M663.7 528.5h0M663.7 539.6h0M663.7 542.0h0M663.7 544.1h0M663.7 546.2h0M663.7 549.1h0M663.7 591.9h0M663.7 596.7h0M663.7 599.2h0M663.7 601.3h0M663.7 603.4h0M663.7 608.2h0M663.7 614.8h0M663.7 617.7h0M663.7 620.6h0M663.7 623.7h0M663.7 625.7h0M663.7 627.9h0M663.7 633.9h0M663.7 636.7h0M663.7 638.4h0M663.7 640.9h0M663.7 644.3h0M663.7 646.0h0M663.7 648.4h0M663.7 651.7h0M662.7 637.7h0M662.7 640.5h0M662.7 642.7h0M662.7 646.1h0M662.7 649.0h0M662.7 651.3h0M662.7 653.0h0M649.0 633.0h0" stroke="#4682b4" stroke-width="2.5" stroke-linecap="round"/><line x1="61.400000000000006" y1="608.6" x2="682.5" y2="608.6" stroke="#cc4a62" stroke-width="2" stroke-dasharray="5.4 3.47" stroke-dashoffset="0.97"/><rect x="60.7" y="467.0" width="622.5" height="223.8" fill="none" stroke="#000" stroke-width="1.6"/><path d="M54.1 684.5H60.7M54.1 658.5H60.7M54.1 632.5H60.7M54.1 606.5H60.7M54.1 580.5H60.7M54.1 554.5H60.7M54.1 528.5H60.7M54.1 502.5H60.7M54.1 476.5H60.7M78.2 690.8v5M129.9 690.8v5M181.4 690.8v5M223.3 690.8v5M264.1 690.8v5M302.0 690.8v5M338.2 690.8v5M371.5 690.8v5M402.6 690.8v5M432.2 690.8v5M461.0 690.8v5M489.2 690.8v5M517.4 690.8v5M537.5 690.8v5M556.0 690.8v5M573.3 690.8v5M592.1 690.8v5M608.7 690.8v5M624.8 690.8v5M638.3 690.8v5M651.5 690.8v5M658.8 690.8v5M665.8 690.8v5" stroke="#000" stroke-width="1.8" fill="none"/><text x="48.3" y="690.4" text-anchor="end" font-size="17">0</text><text x="48.3" y="638.4" text-anchor="end" font-size="17">5</text><text x="48.3" y="586.4" text-anchor="end" font-size="17">10</text><text x="48.3" y="534.4" text-anchor="end" font-size="17">15</text><text x="48.3" y="482.4" text-anchor="end" font-size="17">20</text><rect x="200.5" y="555.8" width="19.0" height="28.8" fill="#fff" stroke="#222" stroke-width="1.15"/><text x="210.0" y="576.4" text-anchor="middle" font-size="16.5">2</text><rect x="298.0" y="562.4" width="18.7" height="29.0" fill="#fff" stroke="#222" stroke-width="1.15"/><text x="307.4" y="583.1" text-anchor="middle" font-size="16.5">4</text><rect x="349.1" y="521.8" width="19.4" height="30.2" fill="#fff" stroke="#222" stroke-width="1.15"/><text x="358.8" y="543.1" text-anchor="middle" font-size="16.5">5</text><rect x="638.2" y="551.0" width="37.5" height="29.0" fill="#fff" stroke="#222" stroke-width="1.15"/><text x="658.2" y="571.7" text-anchor="middle" font-size="16.5">11</text><text x="528.9" y="516.0" text-anchor="middle" font-size="16.8">Transferrin</text><text x="528.6" y="536.2" text-anchor="middle" font-size="16.8">saturation</text><path d="M79.5 889v32M80.5 885v36M81.5 877v2M81.5 881v40M82.5 877v2M82.5 881v40M83.5 883v38M84.5 876v2M84.5 880v41M85.5 876v2M85.5 880v41M86.5 882v39M87.5 875v5M87.5 883v38M88.5 875v5M88.5 883v38M89.5 877v44M90.5 872v49M91.5 872v6M91.5 879v42M92.5 875v6M92.5 882v39M93.5 875v6M93.5 882v39M94.5 881v40M95.5 881v40M96.5 881v40M97.5 881v40M98.5 867v6M98.5 881v40M99.5 867v6M99.5 884v37M100.5 882v4M100.5 887v34M101.5 882v39M102.5 873v48M103.5 871v50M104.5 871v50M105.5 876v45M109.5 878v3M109.5 883v38M110.5 878v43M111.5 871v6M111.5 878v43M112.5 871v6M112.5 881v40M113.5 877v44M114.5 877v44M115.5 881v40M116.5 880v41M117.5 874v47M118.5 874v47M119.5 878v43M120.5 878v43M121.5 878v43M122.5 877v5M122.5 884v37M123.5 877v3M123.5 881v2M123.5 884v37M124.5 873v48M125.5 873v4M125.5 878v43M126.5 872v3M126.5 884v37M127.5 872v3M127.5 880v41M128.5 880v41M129.5 883v38M130.5 883v38M182.5 879v42M183.5 872v3M183.5 876v45M184.5 872v3M184.5 876v6M184.5 883v2M184.5 888v33M185.5 878v43M186.5 881v40M187.5 877v44M188.5 874v2M188.5 877v44M189.5 874v2M189.5 877v44M190.5 871v4M190.5 878v43M191.5 871v50M192.5 874v4M192.5 880v41M193.5 882v39M194.5 875v2M194.5 878v6M194.5 890v31M195.5 875v2M195.5 878v43M196.5 876v45M197.5 876v4M197.5 881v40M198.5 875v4M198.5 884v37M199.5 875v4M199.5 885v36M200.5 880v41M201.5 880v41M202.5 881v40M203.5 883v38M204.5 868v7M204.5 881v40M205.5 868v7M205.5 881v40M206.5 880v41M207.5 870v51M208.5 870v51M209.5 881v40M210.5 884v37M211.5 871v4M211.5 877v2M211.5 880v2M211.5 883v38M212.5 871v4M212.5 877v44M213.5 873v48M214.5 870v51M215.5 870v7M215.5 879v7M215.5 887v34M216.5 872v4M216.5 877v44M217.5 872v4M217.5 877v44M218.5 869v2M218.5 872v3M218.5 876v2M218.5 880v41M219.5 869v2M219.5 872v3M219.5 876v2M219.5 880v41M220.5 873v4M220.5 881v3M220.5 885v36M221.5 873v4M221.5 881v3M221.5 885v36M222.5 876v5M222.5 882v39M223.5 876v5M223.5 882v39M265.5 884v37M266.5 884v37M267.5 886v35M268.5 878v2M268.5 882v39M269.5 876v4M269.5 882v39M270.5 874v6M270.5 881v40M271.5 872v4M271.5 877v3M271.5 881v40M272.5 872v9M272.5 882v2M272.5 886v35M273.5 875v6M273.5 882v2M273.5 885v36M274.5 876v45M275.5 876v45M276.5 880v41M277.5 884v37M278.5 870v3M278.5 874v2M278.5 877v44M279.5 870v3M279.5 874v2M279.5 877v44M280.5 882v39M281.5 873v4M281.5 878v43M282.5 873v4M282.5 878v43M283.5 883v38M284.5 874v2M284.5 878v43M285.5 874v2M285.5 878v43M286.5 880v41M287.5 876v45M288.5 876v7M288.5 884v37M289.5 880v4M289.5 885v36M290.5 876v45M291.5 876v6M291.5 884v37M292.5 879v42M293.5 872v49M294.5 872v49M295.5 883v38M296.5 874v3M296.5 883v38M297.5 874v3M297.5 880v41M298.5 873v48M299.5 873v48M300.5 878v43M301.5 876v45M302.5 876v4M302.5 881v40M339.5 887v34M340.5 886v35M341.5 886v35M342.5 873v5M342.5 880v41M343.5 873v5M343.5 880v41M344.5 878v43M345.5 878v43M346.5 874v5M346.5 886v35M347.5 874v5M347.5 883v38M348.5 878v3M348.5 883v38M349.5 873v2M349.5 876v45M350.5 868v53M351.5 868v53M352.5 880v41M353.5 882v39M354.5 876v3M354.5 884v37M355.5 876v3M355.5 884v37M356.5 881v40M357.5 881v40M358.5 881v40M359.5 881v40M360.5 881v40M361.5 880v41M362.5 880v41M363.5 874v4M363.5 880v41M364.5 874v4M364.5 880v41M365.5 881v40M366.5 881v8M366.5 891v30M367.5 879v42M368.5 879v42M369.5 882v39M370.5 878v3M370.5 891v30M371.5 878v3M371.5 891v30M403.5 866v2M403.5 869v36M403.5 906v15M404.5 866v2M404.5 869v52M405.5 879v42M406.5 874v47M407.5 870v51M408.5 870v5M408.5 876v45M409.5 879v42M410.5 879v42M411.5 871v4M411.5 876v45M412.5 871v50M413.5 873v48M414.5 888v6M414.5 899v22M419.5 875v4M419.5 881v2M419.5 884v37M420.5 871v50M421.5 871v4M421.5 876v45M422.5 880v2M422.5 884v37M423.5 880v41M424.5 882v39M425.5 882v39M426.5 877v44M427.5 877v44M428.5 879v42M429.5 880v41M430.5 879v42M431.5 875v3M431.5 879v42M432.5 875v3M432.5 880v41M462.5 879v6M462.5 888v33M463.5 879v6M463.5 887v34M464.5 875v4M464.5 880v41M465.5 875v4M465.5 880v41M466.5 874v3M466.5 878v2M466.5 881v40M467.5 874v3M467.5 878v2M467.5 881v40M468.5 877v44M469.5 877v44M470.5 877v44M471.5 876v45M472.5 876v6M472.5 884v37M473.5 880v41M474.5 875v2M474.5 879v42M475.5 875v2M475.5 879v42M476.5 880v41M477.5 880v41M478.5 865v8M478.5 879v42M479.5 865v8M479.5 879v42M480.5 880v41M481.5 876v45M482.5 866v4M482.5 873v48M483.5 866v4M483.5 873v4M483.5 878v43M484.5 880v41M485.5 866v4M485.5 871v2M485.5 875v5M485.5 882v39M486.5 866v4M486.5 871v2M486.5 875v5M486.5 882v39M487.5 886v35M488.5 875v6M488.5 885v36M489.5 875v6M489.5 885v5M489.5 891v30M518.5 879v42M519.5 871v2M519.5 874v2M519.5 879v42M520.5 871v2M520.5 874v2M520.5 887v34M521.5 886v35M522.5 874v47M523.5 874v47M524.5 884v37M525.5 886v35M526.5 877v44M527.5 877v44M528.5 877v44M529.5 877v3M529.5 881v40M530.5 871v4M530.5 881v40M531.5 871v4M531.5 881v4M531.5 886v35M532.5 875v6M532.5 886v35M533.5 875v46M534.5 875v3M534.5 880v41M535.5 871v11M535.5 884v37M536.5 871v50M537.5 874v47M557.5 878v43M558.5 878v43M559.5 875v3M559.5 880v41M560.5 875v3M560.5 879v42M561.5 875v3M561.5 879v42M562.5 878v43M563.5 865v6M563.5 878v2M563.5 884v37M564.5 865v11M564.5 883v38M565.5 869v9M565.5 880v41M566.5 876v2M566.5 880v6M566.5 887v34M567.5 884v37M568.5 878v43M569.5 875v46M570.5 871v50M571.5 871v4M571.5 876v45M572.5 871v9M572.5 882v39M573.5 871v9M573.5 882v39M593.5 882v39M594.5 876v4M594.5 881v40M595.5 876v4M595.5 881v40M596.5 885v36M597.5 882v39M598.5 875v5M598.5 882v39M599.5 875v5M599.5 883v38M600.5 876v3M600.5 880v41M601.5 876v3M601.5 880v41M602.5 883v38M603.5 878v9M603.5 888v33M604.5 878v43M605.5 876v45M606.5 876v45M607.5 877v44M608.5 877v44M609.5 878v2M609.5 881v40M626.5 883v38M627.5 880v2M627.5 883v38M628.5 878v43M629.5 878v43M630.5 878v43M631.5 876v3M631.5 881v40M632.5 876v3M632.5 881v40M633.5 883v38M634.5 878v2M634.5 882v39M635.5 878v43M636.5 880v41M637.5 886v35M638.5 886v35M652.5 880v6M652.5 887v34M653.5 880v41M654.5 883v38M655.5 871v12M655.5 884v37M656.5 871v12M656.5 884v37M657.5 879v3M657.5 883v38M658.5 879v42M659.5 882v39" stroke="#000" stroke-width="1" shape-rendering="crispEdges"/><path d="M131.5 888v33M132.5 882v39M133.5 878v43M134.5 875v46M135.5 867v7M135.5 875v46M136.5 867v7M136.5 875v46M137.5 877v44M138.5 877v44M139.5 883v3M139.5 888v33M140.5 871v3M140.5 875v7M140.5 883v38M141.5 871v3M141.5 875v46M142.5 877v2M142.5 880v41M143.5 881v40M144.5 880v41M145.5 879v42M146.5 879v42M147.5 880v41M148.5 880v41M149.5 884v37M150.5 878v5M150.5 884v37M151.5 877v44M152.5 875v46M153.5 875v11M153.5 889v32M154.5 873v9M154.5 888v33M155.5 866v5M155.5 873v9M155.5 884v37M156.5 866v5M156.5 874v4M156.5 879v42M157.5 867v54M158.5 867v16M158.5 887v34M159.5 879v42M160.5 870v2M160.5 879v42M161.5 870v2M161.5 878v43M162.5 878v43M163.5 879v42M164.5 875v46M165.5 869v2M165.5 875v46M166.5 869v2M166.5 879v2M166.5 882v39M167.5 871v3M167.5 875v2M167.5 882v39M168.5 871v3M168.5 875v46M169.5 873v48M170.5 873v9M170.5 885v36M171.5 882v2M171.5 888v33M172.5 878v9M172.5 888v33M173.5 878v43M174.5 880v3M174.5 886v35M175.5 882v5M175.5 888v33M176.5 882v39M177.5 876v45M178.5 876v45M179.5 866v2M179.5 871v2M179.5 876v45M180.5 866v2M180.5 871v2M180.5 876v45M181.5 878v10M181.5 890v31M224.5 882v39M225.5 878v43M226.5 878v43M227.5 873v4M227.5 880v41M228.5 868v11M228.5 880v41M229.5 868v53M230.5 872v2M230.5 875v2M230.5 878v11M230.5 890v31M231.5 868v5M231.5 874v47M232.5 868v5M232.5 874v47M233.5 876v45M234.5 876v45M235.5 884v37M236.5 867v4M236.5 879v42M237.5 867v4M237.5 879v42M238.5 881v40M239.5 881v3M239.5 885v36M240.5 877v44M241.5 877v44M242.5 882v39M243.5 881v40M244.5 881v40M245.5 875v6M245.5 882v39M246.5 875v46M247.5 878v43M248.5 866v4M248.5 876v2M248.5 879v42M249.5 866v4M249.5 876v2M249.5 881v40M250.5 866v4M250.5 871v3M250.5 875v3M250.5 879v42M251.5 866v4M251.5 871v3M251.5 875v3M251.5 879v42M252.5 873v48M253.5 867v2M253.5 872v49M254.5 867v2M254.5 872v2M254.5 877v6M254.5 884v37M255.5 880v3M255.5 884v37M256.5 878v43M257.5 878v43M258.5 886v35M259.5 876v8M259.5 885v36M260.5 874v47M261.5 866v5M261.5 874v47M262.5 866v5M262.5 886v35M263.5 869v4M263.5 884v37M264.5 869v4M264.5 884v37M303.5 868v5M303.5 876v45M304.5 868v5M304.5 876v45M305.5 880v2M305.5 885v36M306.5 882v39M307.5 882v39M308.5 880v41M309.5 877v44M310.5 874v47M311.5 874v47M312.5 880v41M313.5 878v43M314.5 878v43M315.5 878v43M316.5 882v39M317.5 881v2M317.5 884v37M318.5 871v2M318.5 881v2M318.5 884v37M319.5 871v2M319.5 884v37M320.5 875v3M320.5 883v38M321.5 875v3M321.5 881v40M322.5 881v40M323.5 887v34M324.5 876v5M324.5 882v39M325.5 876v5M325.5 882v39M326.5 879v2M326.5 883v38M327.5 879v2M327.5 884v37M328.5 874v4M328.5 879v2M328.5 882v39M329.5 874v47M330.5 874v10M330.5 885v36M331.5 885v36M332.5 883v38M333.5 871v4M333.5 883v38M334.5 871v4M334.5 884v37M335.5 889v32M336.5 881v7M336.5 889v32M337.5 874v47M338.5 874v47M372.5 875v4M372.5 882v39M373.5 871v10M373.5 882v39M374.5 871v4M374.5 876v5M374.5 884v37M375.5 877v3M375.5 881v4M375.5 888v33M376.5 877v3M376.5 881v40M377.5 883v38M378.5 884v4M378.5 890v31M379.5 879v2M379.5 882v39M380.5 867v2M380.5 879v42M381.5 867v2M381.5 881v40M382.5 869v5M382.5 880v41M383.5 869v5M383.5 876v45M384.5 876v45M385.5 881v40M386.5 881v8M386.5 890v31M387.5 879v42M388.5 879v42M389.5 884v37M390.5 884v37M391.5 880v41M392.5 878v43M393.5 878v43M394.5 881v40M395.5 879v42M396.5 874v47M397.5 874v6M397.5 883v38M398.5 881v2M398.5 886v35M399.5 881v2M399.5 885v36M400.5 874v5M400.5 885v36M401.5 874v5M401.5 883v3M401.5 888v33M402.5 883v3M402.5 888v33M433.5 887v8M433.5 896v25M434.5 882v39M435.5 880v41M436.5 880v41M437.5 877v8M437.5 886v35M438.5 877v44M439.5 878v43M440.5 872v6M440.5 879v5M440.5 886v35M441.5 872v6M441.5 879v3M441.5 883v2M441.5 886v35M442.5 876v45M443.5 865v7M443.5 874v47M444.5 865v7M444.5 874v7M444.5 885v36M445.5 874v8M445.5 884v37M446.5 871v50M447.5 871v7M447.5 879v42M448.5 879v42M449.5 879v4M449.5 885v36M450.5 873v2M450.5 876v4M450.5 881v40M451.5 873v2M451.5 876v45M452.5 871v3M452.5 876v3M452.5 880v41M453.5 871v50M454.5 869v7M454.5 877v44M455.5 869v5M455.5 879v42M456.5 881v40M457.5 881v40M458.5 878v3M458.5 883v38M459.5 873v2M459.5 878v3M459.5 882v39M460.5 873v2M460.5 882v39M461.5 891v30M490.5 881v40M491.5 879v42M492.5 879v4M492.5 887v34M493.5 878v43M494.5 878v43M495.5 876v2M495.5 879v42M496.5 876v2M496.5 879v42M497.5 874v47M498.5 874v47M499.5 880v2M499.5 883v38M500.5 886v35M501.5 884v37M502.5 884v37M503.5 866v3M503.5 876v2M503.5 881v40M504.5 866v3M504.5 876v2M504.5 880v41M505.5 872v3M505.5 877v44M506.5 872v3M506.5 877v44M507.5 876v45M508.5 876v45M509.5 875v46M510.5 875v46M511.5 884v37M512.5 877v6M512.5 884v37M513.5 877v44M514.5 873v4M514.5 878v43M515.5 873v4M515.5 878v43M516.5 873v4M516.5 881v40M517.5 873v4M517.5 881v40M538.5 873v10M538.5 885v36M539.5 873v48M540.5 880v41M541.5 878v43M542.5 878v43M543.5 883v38M544.5 881v40M545.5 878v43M546.5 878v43M547.5 876v8M547.5 886v35M548.5 876v8M548.5 886v35M549.5 875v46M550.5 875v46M551.5 875v2M551.5 878v2M551.5 881v40M552.5 875v5M552.5 881v40M553.5 877v3M553.5 882v5M553.5 888v33M554.5 876v3M554.5 881v40M555.5 876v45M556.5 878v3M556.5 882v2M556.5 886v35M574.5 885v36M575.5 885v36M576.5 876v8M576.5 885v36M577.5 876v8M577.5 885v36M578.5 886v35M579.5 885v36M580.5 884v37M581.5 878v5M581.5 884v37M582.5 892v29M583.5 920v1M584.5 892v29M585.5 887v34M586.5 867v7M586.5 876v2M586.5 880v41M587.5 867v8M587.5 876v45M588.5 873v48M589.5 875v46M590.5 867v6M590.5 874v47M591.5 867v6M591.5 874v47M592.5 890v3M592.5 894v27M610.5 877v6M610.5 887v34M611.5 877v44M612.5 873v48M613.5 873v14M613.5 888v33M614.5 874v3M614.5 880v41M615.5 874v5M615.5 883v38M616.5 876v3M616.5 884v3M616.5 888v33M617.5 877v5M617.5 884v37M618.5 877v5M618.5 883v38M619.5 881v40M620.5 880v41M621.5 870v6M621.5 879v42M622.5 870v6M622.5 879v42M623.5 883v38M624.5 884v37M625.5 884v37M639.5 883v38M640.5 883v38M641.5 877v2M641.5 880v41M642.5 877v2M642.5 880v41M643.5 876v5M643.5 882v6M643.5 889v32M644.5 876v45M645.5 881v40M646.5 884v37M647.5 869v10M647.5 884v37M648.5 869v10M648.5 880v41M649.5 880v7M649.5 888v33M650.5 880v41M651.5 880v41M660.5 890v31M661.5 868v4M661.5 883v38M662.5 866v6M662.5 880v41M663.5 866v6M663.5 880v41M664.5 882v39M665.5 882v39M666.5 882v39M667.5 889v32" stroke="#4682b4" stroke-width="1" shape-rendering="crispEdges"/><path d="M183.4 867.3h0M183.4 869.2h0M183.4 872.0h0M183.4 874.3h0M183.4 877.0h0M183.4 880.1h0M183.4 882.7h0M183.4 886.2h0M276.2 860.8h0M278.2 859.7h0M268.7 870.6h0M268.7 872.7h0M268.7 875.8h0M268.7 879.5h0M268.7 881.8h0M268.7 885.0h0M298.0 868.0h0M298.0 869.6h0M298.0 871.6h0M298.0 873.2h0M298.0 875.3h0M298.0 878.9h0M298.0 881.0h0M298.0 882.7h0M298.0 885.5h0M432.5 833.0h0M432.5 851.0h0M432.5 860.0h0M432.5 866.0h0M432.5 868.9h0M432.5 872.3h0M432.5 875.1h0M432.5 877.7h0M432.5 880.4h0M432.5 883.2h0M432.5 885.5h0M428.0 866.2h0M463.7 859.0h0M463.7 861.9h0M463.7 864.9h0M463.7 867.4h0M463.7 871.0h0M463.7 873.4h0M463.7 876.7h0M463.7 878.9h0M463.7 880.8h0M463.7 884.2h0M562.2 852.1h0M562.2 853.0h0M562.2 854.0h0M562.2 854.6h0M562.2 855.2h0M562.2 856.2h0M562.2 857.4h0M562.2 858.5h0M562.2 859.3h0M562.2 860.0h0M605.0 812.3h0M605.0 838.7h0M605.0 846.8h0M605.0 848.0h0M605.0 848.9h0M605.0 850.0h0M605.0 850.8h0M605.0 851.5h0M605.0 852.4h0M605.0 853.6h0M605.0 854.2h0M605.0 855.0h0M605.0 855.6h0M605.0 856.3h0M605.0 857.0h0M605.0 857.8h0M605.0 858.8h0M605.0 859.7h0M605.0 860.4h0M605.0 861.4h0M605.0 861.5h0M605.0 862.2h0M605.0 863.1h0M605.0 864.0h0M605.0 864.5h0M605.0 865.3h0M605.0 866.2h0M605.0 867.1h0M605.0 867.9h0M605.0 868.4h0M605.0 869.2h0M605.0 869.8h0M605.0 870.4h0M605.0 871.4h0M605.0 872.0h0M605.0 873.0h0M605.0 873.5h0M605.0 874.2h0M605.0 874.9h0M605.0 875.9h0M605.0 876.6h0M605.0 877.3h0M605.0 878.4h0M605.0 879.1h0M605.0 879.8h0M605.0 880.6h0M605.0 881.2h0M605.0 882.1h0M605.0 882.6h0M605.0 883.6h0M605.0 884.1h0M605.0 884.9h0M605.0 885.6h0M605.0 886.7h0M603.9 865.2h0M603.9 866.8h0M603.9 869.7h0M603.9 872.5h0M603.9 874.6h0M603.9 876.8h0M603.9 879.9h0M603.9 882.8h0M603.9 886.1h0M606.1 867.3h0M606.1 870.4h0M606.1 872.4h0M606.1 875.3h0M606.1 878.2h0M606.1 881.5h0M606.1 883.1h0M606.1 884.9h0M628.9 868.0h0M628.9 870.7h0M628.9 874.3h0M628.9 876.4h0M628.9 879.4h0M628.9 881.6h0M628.9 884.2h0M628.9 886.7h0" stroke="#000" stroke-width="2.5" stroke-linecap="round"/><path d="M171.5 717.4h0M171.5 721.8h0M171.5 772.7h0M171.5 779.0h0M171.5 804.1h0M171.5 806.0h0M171.5 807.9h0M171.5 845.0h0M171.5 845.7h0M171.5 846.7h0M171.5 847.7h0M171.5 848.6h0M171.5 849.2h0M171.5 849.9h0M171.5 851.0h0M171.5 852.0h0M171.5 853.0h0M171.5 853.7h0M171.5 854.3h0M171.5 855.4h0M171.5 856.2h0M171.5 857.4h0M171.5 857.5h0M171.5 858.1h0M171.5 859.0h0M171.5 859.8h0M171.5 860.3h0M171.5 861.3h0M171.5 862.0h0M171.5 862.9h0M171.5 863.6h0M171.5 864.4h0M171.5 865.2h0M171.5 866.0h0M171.5 866.8h0M171.5 867.8h0M171.5 868.4h0M171.5 869.0h0M171.5 869.7h0M171.5 870.8h0M171.5 871.3h0M171.5 872.3h0M171.5 872.9h0M171.5 873.8h0M171.5 874.6h0M171.5 875.3h0M171.5 876.1h0M171.5 877.0h0M171.5 877.8h0M171.5 878.5h0M171.5 879.2h0M171.5 880.0h0M171.5 881.0h0M171.5 881.9h0M171.5 882.8h0M171.5 883.4h0M171.5 883.9h0M171.5 884.9h0M171.5 885.5h0M171.5 886.5h0M172.6 863.0h0M172.6 865.1h0M172.6 868.4h0M172.6 870.5h0M172.6 873.1h0M172.6 876.2h0M172.6 878.3h0M172.6 880.2h0M172.6 882.5h0M172.6 884.1h0M170.4 867.3h0M170.4 869.8h0M170.4 871.8h0M170.4 875.3h0M170.4 877.0h0M170.4 880.3h0M170.4 882.2h0M170.4 885.1h0M161.4 867.3h0M161.4 869.1h0M161.4 871.7h0M161.4 873.8h0M161.4 875.6h0M161.4 877.3h0M161.4 880.4h0M161.4 882.3h0M161.4 884.7h0M164.4 870.6h0M164.4 873.9h0M164.4 877.1h0M164.4 879.8h0M164.4 882.8h0M164.4 884.9h0M167.4 868.4h0M167.4 871.2h0M167.4 873.0h0M167.4 875.0h0M167.4 877.7h0M167.4 881.1h0M167.4 883.8h0M167.4 886.2h0M175.4 871.7h0M175.4 873.9h0M175.4 877.5h0M175.4 879.3h0M175.4 881.9h0M175.4 883.9h0M175.4 886.5h0M308.8 759.3h0M308.8 762.2h0M308.8 764.4h0M308.8 775.7h0M308.8 781.1h0M308.8 787.9h0M308.8 793.6h0M308.8 803.2h0M308.8 808.9h0M308.8 811.7h0M308.8 812.6h0M308.8 813.6h0M308.8 814.7h0M308.8 816.1h0M308.8 817.0h0M308.8 818.4h0M308.8 819.7h0M308.8 820.7h0M308.8 822.5h0M308.8 823.3h0M308.8 824.1h0M308.8 825.5h0M308.8 826.3h0M308.8 826.9h0M308.8 828.1h0M308.8 829.0h0M308.8 829.7h0M308.8 832.6h0M308.8 834.0h0M308.8 835.1h0M308.8 836.2h0M308.8 837.5h0M308.8 838.2h0M308.8 838.4h0M308.8 838.9h0M308.8 839.7h0M308.8 840.3h0M308.8 841.2h0M308.8 841.8h0M308.8 842.5h0M308.8 843.0h0M308.8 843.5h0M308.8 844.2h0M308.8 844.9h0M308.8 845.6h0M308.8 846.5h0M308.8 847.3h0M308.8 847.9h0M308.8 848.6h0M308.8 849.3h0M308.8 850.1h0M308.8 850.9h0M308.8 851.7h0M308.8 852.2h0M308.8 853.0h0M308.8 853.5h0M308.8 854.2h0M308.8 854.9h0M308.8 855.7h0M308.8 856.2h0M308.8 856.8h0M308.8 857.5h0M308.8 858.1h0M308.8 858.7h0M308.8 859.5h0M308.8 860.0h0M308.8 860.6h0M308.8 861.0h0M308.8 861.8h0M308.8 862.4h0M308.8 863.2h0M308.8 863.8h0M308.8 864.3h0M308.8 865.0h0M308.8 865.8h0M308.8 866.6h0M308.8 867.3h0M308.8 867.9h0M308.8 868.5h0M308.8 869.3h0M308.8 869.8h0M308.8 870.5h0M308.8 871.4h0M308.8 872.1h0M308.8 872.5h0M308.8 873.3h0M308.8 873.8h0M308.8 874.5h0M308.8 875.1h0M308.8 875.5h0M308.8 876.1h0M308.8 876.7h0M308.8 877.2h0M308.8 877.7h0M308.8 878.3h0M308.8 878.9h0M308.8 879.5h0M308.8 879.9h0M308.8 880.7h0M308.8 881.4h0M308.8 882.2h0M308.8 882.7h0M308.8 883.3h0M308.8 884.1h0M308.8 884.6h0M308.8 885.3h0M308.8 886.2h0M308.8 887.0h0M307.8 854.2h0M307.8 855.1h0M307.8 855.6h0M307.8 856.7h0M307.8 857.5h0M307.8 858.2h0M307.8 859.4h0M307.8 860.1h0M307.8 861.1h0M307.8 862.1h0M307.8 862.9h0M307.8 863.5h0M307.8 864.1h0M307.8 865.1h0M307.8 866.1h0M307.8 867.0h0M307.8 867.5h0M307.8 868.7h0M307.8 869.3h0M307.8 870.5h0M307.8 871.5h0M307.8 872.4h0M307.8 873.3h0M307.8 874.1h0M307.8 874.9h0M307.8 876.1h0M307.8 877.3h0M307.8 878.1h0M307.8 879.1h0M307.8 879.9h0M307.8 880.8h0M307.8 881.6h0M307.8 882.6h0M307.8 883.2h0M307.8 884.0h0M307.8 884.6h0M307.8 885.4h0M307.8 886.1h0M307.8 886.7h0M309.8 848.8h0M309.8 849.6h0M309.8 850.6h0M309.8 851.5h0M309.8 852.3h0M309.8 853.1h0M309.8 854.3h0M309.8 855.2h0M309.8 856.4h0M309.8 857.2h0M309.8 858.4h0M309.8 859.1h0M309.8 860.1h0M309.8 861.0h0M309.8 861.8h0M309.8 863.0h0M309.8 863.6h0M309.8 864.6h0M309.8 865.1h0M309.8 865.7h0M309.8 866.5h0M309.8 867.1h0M309.8 868.3h0M309.8 869.2h0M309.8 869.7h0M309.8 870.5h0M309.8 871.6h0M309.8 872.4h0M309.8 873.5h0M309.8 874.3h0M309.8 875.1h0M309.8 875.8h0M309.8 876.4h0M309.8 877.1h0M309.8 877.9h0M309.8 879.1h0M309.8 879.8h0M309.8 881.0h0M309.8 882.0h0M309.8 883.2h0M309.8 884.4h0M309.8 885.2h0M309.8 886.2h0M306.9 868.4h0M306.9 871.9h0M306.9 875.3h0M306.9 878.7h0M306.9 881.8h0M306.9 884.9h0M311.2 865.2h0M311.2 868.7h0M311.2 872.2h0M311.2 874.1h0M311.2 876.9h0M311.2 880.2h0M311.2 883.5h0M311.2 886.3h0M336.1 861.8h0M336.1 864.4h0M336.1 867.0h0M336.1 872.4h0M336.1 875.3h0M336.1 877.7h0M336.1 880.4h0M336.1 882.1h0M336.1 884.1h0M314.9 870.6h0M314.9 873.5h0M314.9 876.3h0M314.9 878.1h0M314.9 881.6h0M314.9 883.4h0M314.9 885.2h0M317.4 871.7h0M317.4 874.3h0M317.4 877.0h0M317.4 880.3h0M317.4 883.7h0M317.4 885.7h0M320.3 872.8h0M320.3 874.5h0M320.3 877.9h0M320.3 879.7h0M320.3 883.3h0M320.3 886.6h0M502.0 859.0h0M502.0 862.5h0M502.0 866.0h0M502.0 869.4h0M502.0 872.5h0M502.0 874.7h0M502.0 878.1h0M502.0 880.2h0M502.0 883.7h0M502.0 886.5h0M650.0 868.0h0M650.0 870.2h0M650.0 873.3h0M650.0 875.9h0M650.0 877.5h0M650.0 880.7h0M650.0 883.9h0M650.0 886.8h0M664.4 768.1h0M664.4 827.7h0M664.9 870.6h0M664.9 872.8h0M664.9 876.0h0M664.9 878.2h0M664.9 880.2h0M664.9 881.8h0M664.9 883.5h0M664.9 886.4h0M584.9 870.6h0M584.9 873.9h0M584.9 875.9h0M584.9 878.3h0M584.9 880.2h0M584.9 882.3h0M584.9 885.5h0" stroke="#4682b4" stroke-width="2.5" stroke-linecap="round"/><line x1="62.900000000000006" y1="840.1" x2="683.5999999999999" y2="840.1" stroke="#cc4a62" stroke-width="2" stroke-dasharray="5.4 3.47" stroke-dashoffset="1.07"/><rect x="62.2" y="701.2" width="622.1" height="224.5" fill="none" stroke="#000" stroke-width="1.6"/><path d="M55.6 919.7H62.2M55.6 892.4H62.2M55.6 865.2H62.2M55.6 837.9H62.2M55.6 810.6H62.2M55.6 783.3H62.2M55.6 756.1H62.2M55.6 728.8H62.2M55.6 701.5H62.2M79.6 925.7v5M131.3 925.7v5M182.8 925.7v5M224.7 925.7v5M265.5 925.7v5M303.4 925.7v5M339.6 925.7v5M372.9 925.7v5M404.0 925.7v5M433.6 925.7v5M462.4 925.7v5M490.6 925.7v5M518.8 925.7v5M538.9 925.7v5M557.4 925.7v5M574.7 925.7v5M593.5 925.7v5M610.1 925.7v5M626.2 925.7v5M639.7 925.7v5M652.9 925.7v5M660.2 925.7v5M667.2 925.7v5" stroke="#000" stroke-width="1.8" fill="none"/><text x="49.8" y="925.6" text-anchor="end" font-size="17">0</text><text x="49.8" y="871.1" text-anchor="end" font-size="17">5</text><text x="49.8" y="816.5" text-anchor="end" font-size="17">10</text><text x="49.8" y="762.0" text-anchor="end" font-size="17">15</text><text x="49.8" y="707.4" text-anchor="end" font-size="17">20</text><rect x="162.4" y="730.7" width="19.0" height="29.0" fill="#fff" stroke="#222" stroke-width="1.15"/><text x="171.9" y="751.4" text-anchor="middle" font-size="16.5">1</text><rect x="298.3" y="722.2" width="18.1" height="29.1" fill="#fff" stroke="#222" stroke-width="1.15"/><text x="307.4" y="743.0" text-anchor="middle" font-size="16.5">4</text><rect x="421.4" y="793.2" width="18.1" height="30.1" fill="#fff" stroke="#222" stroke-width="1.15"/><text x="430.4" y="814.5" text-anchor="middle" font-size="16.5">7</text><rect x="582.3" y="776.5" width="37.7" height="29.0" fill="#fff" stroke="#222" stroke-width="1.15"/><text x="600.1" y="797.2" text-anchor="middle" font-size="16.5">10</text><rect x="638.4" y="726" width="37.0" height="29.1" fill="#fff" stroke="#222" stroke-width="1.15"/><text x="658.1" y="746.8" text-anchor="middle" font-size="16.5">11</text><text x="519.6" y="735.5" text-anchor="middle" font-size="16.8">Ferritin</text><text x="78.6" y="950" text-anchor="middle" font-size="17">1</text><text x="130.3" y="968.5" text-anchor="middle" font-size="17">2</text><text x="181.8" y="950" text-anchor="middle" font-size="17">3</text><text x="223.7" y="968.5" text-anchor="middle" font-size="17">4</text><text x="264.5" y="950" text-anchor="middle" font-size="17">5</text><text x="302.4" y="968.5" text-anchor="middle" font-size="17">6</text><text x="338.6" y="950" text-anchor="middle" font-size="17">7</text><text x="371.9" y="968.5" text-anchor="middle" font-size="17">8</text><text x="403.0" y="950" text-anchor="middle" font-size="17">9</text><text x="432.6" y="968.5" text-anchor="middle" font-size="17">10</text><text x="461.4" y="950" text-anchor="middle" font-size="17">11</text><text x="489.6" y="968.5" text-anchor="middle" font-size="17">12</text><text x="517.8" y="950" text-anchor="middle" font-size="17">13</text><text x="537.9" y="968.5" text-anchor="middle" font-size="17">14</text><text x="556.4" y="950" text-anchor="middle" font-size="17">15</text><text x="573.7" y="968.5" text-anchor="middle" font-size="17">16</text><text x="592.5" y="950" text-anchor="middle" font-size="17">17</text><text x="609.1" y="968.5" text-anchor="middle" font-size="17">18</text><text x="625.2" y="950" text-anchor="middle" font-size="17">19</text><text x="638.7" y="968.5" text-anchor="middle" font-size="17">20</text><text x="651.9" y="950" text-anchor="middle" font-size="17">21</text><text x="372.8" y="993" text-anchor="middle" font-size="17">Chromosome</text><text transform="translate(15.1 460.6) rotate(-90)" text-anchor="middle" font-size="17">−log<tspan font-size="11.5" dy="4.5">10</tspan><tspan dy="-4.5">(</tspan><tspan font-style="italic">P</tspan> -value)</text></g></svg>
</body></html>
